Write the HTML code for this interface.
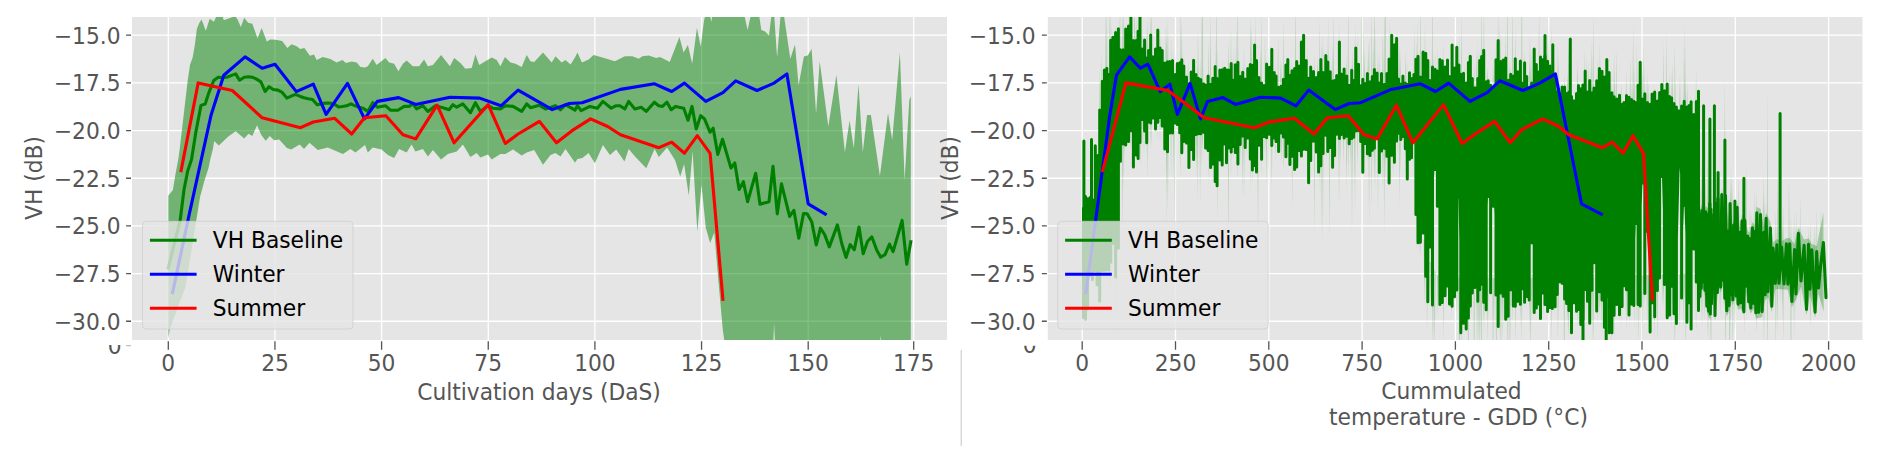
<!DOCTYPE html>
<html><head><meta charset="utf-8"><title>VH backscatter</title>
<style>html,body{margin:0;padding:0;background:#fff}body{width:1880px;height:463px;overflow:hidden}</style></head>
<body>
<svg width="1880" height="463" viewBox="0 0 1880 463" style="display:block;font-family:'DejaVu Sans','Liberation Sans',sans-serif">
<defs><clipPath id="cl"><rect x="132.0" y="17.0" width="815.0" height="323.0"/></clipPath>
<clipPath id="cr"><rect x="1047.8" y="17.0" width="814.7" height="323.0"/></clipPath>
<clipPath id="cz"><rect x="0" y="345.0" width="1000" height="30"/><rect x="1000" y="345.7" width="880" height="30"/></clipPath></defs>
<rect width="1880" height="463" fill="#ffffff"/>
<rect x="132.0" y="17.0" width="815.0" height="323.0" fill="#e5e5e5"/>
<path d="M132.0 35.20H947.0M132.0 82.88H947.0M132.0 130.55H947.0M132.0 178.23H947.0M132.0 225.90H947.0M132.0 273.57H947.0M132.0 321.25H947.0M168.30 17.0V340.0M274.95 17.0V340.0M381.60 17.0V340.0M488.25 17.0V340.0M594.90 17.0V340.0M701.55 17.0V340.0M808.20 17.0V340.0M913.70 17.0V340.0" stroke="#ffffff" stroke-width="1.3" fill="none"/>
<rect x="1047.8" y="17.0" width="814.7" height="323.0" fill="#e5e5e5"/>
<path d="M1047.8 35.20H1862.5M1047.8 82.88H1862.5M1047.8 130.55H1862.5M1047.8 178.23H1862.5M1047.8 225.90H1862.5M1047.8 273.57H1862.5M1047.8 321.25H1862.5M1082.20 17.0V340.0M1175.50 17.0V340.0M1268.80 17.0V340.0M1362.10 17.0V340.0M1455.40 17.0V340.0M1548.70 17.0V340.0M1642.00 17.0V340.0M1735.30 17.0V340.0M1828.60 17.0V340.0" stroke="#ffffff" stroke-width="1.3" fill="none"/>
<g clip-path="url(#cl)">
<path d="M168.3 195.8L172.9 189.9L175.4 174.4L178.3 159.2L179.7 148.9L187.7 80.6L190.1 64.6L192.6 57.7L194.7 45.9L196.9 28.7L199.4 22.8L201.6 19.4L205.8 30.8L209.7 18.8L213.9 21.7L216.5 16.1L222.5 16.1L223.8 20.3L228.5 18.6L235.3 16.1L237.8 19.9L240.8 27.0L244.2 17.7L248.1 22.8L252.3 23.8L257.5 38.3L261.7 28.0L266.8 41.5L270.3 39.4L275.4 39.8L282.2 41.1L287.3 48.0L291.6 44.2L296.7 46.3L300.1 48.9L304.4 48.0L309.9 55.8L314.0 54.6L316.6 60.1L322.8 57.1L330.4 58.9L336.6 62.6L342.4 60.1L345.9 63.1L351.7 61.4L356.7 62.6L360.5 67.1L365.0 67.6L367.8 66.3L372.8 58.8L376.6 65.1L385.4 58.0L389.1 62.6L394.1 63.8L398.4 71.3L402.9 63.8L406.6 60.6L412.9 66.3L419.1 66.3L424.1 59.5L427.9 66.3L432.9 65.1L441.1 55.0L449.9 66.3L454.2 58.0L460.4 63.1L465.4 68.8L471.7 68.1L475.4 54.5L479.2 65.1L491.7 57.5L496.7 60.1L500.4 66.3L505.0 57.0L510.5 62.6L515.5 63.8L521.7 67.1L526.7 55.0L530.5 61.3L534.2 62.1L543.0 52.5L551.7 62.6L555.5 56.3L561.7 62.6L565.5 60.1L570.5 64.6L575.0 57.5L577.4 52.5L581.9 62.6L588.6 59.5L593.6 55.0L602.4 57.5L614.9 61.3L624.9 56.3L632.4 56.3L638.7 58.8L642.4 56.3L648.7 55.5L656.2 58.0L660.0 57.0L670.0 62.1L670.0 61.3L679.4 37.1L683.6 52.6L687.9 45.1L692.2 63.8L696.9 28.1L700.7 46.5L704.1 19.9L707.9 6.6L711.4 21.9L714.3 -2.9L737.8 -2.9L739.9 16.1L742.5 6.6L747.6 30.1L752.7 6.6L757.0 0.9L761.3 30.1L765.1 31.4L769.0 35.6L773.2 0.9L777.1 57.5L781.8 0.9L790.3 58.8L795.0 44.5L798.6 85.2L803.9 56.4L807.8 55.6L811.6 48.9L816.1 113.4L819.7 61.3L828.3 126.4L836.4 75.1L844.9 152.3L849.6 120.6L853.8 148.3L858.5 84.6L862.8 152.3L867.1 115.1L870.9 115.1L879.9 175.9L888.0 113.2L892.2 140.1L899.9 52.4L904.6 180.1L909.3 100.0L910.8 96.2L910.8 397.5L882.4 359.4L880.3 335.6L878.2 359.4L776.2 368.9L774.1 323.2L772.2 368.9L727.1 359.4L722.9 330.8L718.6 283.1L714.3 232.6L710.1 243.1L705.8 227.8L701.5 184.9L697.3 231.6L692.6 151.3L688.8 195.4L684.1 163.9L680.2 176.5L675.1 160.2L667.1 147.6L658.8 157.1L654.6 148.9L646.3 168.2L635.0 156.4L628.7 148.9L624.5 161.4L616.2 149.6L609.9 155.1L602.9 145.1L594.9 163.2L588.6 153.1L582.4 158.1L577.4 158.9L575.0 162.7L565.5 148.9L560.5 156.4L555.5 153.1L550.5 155.1L543.0 164.7L534.2 150.1L526.7 152.6L521.7 155.6L513.0 149.6L505.5 153.9L500.4 153.9L491.7 159.6L487.9 154.6L480.4 157.6L476.7 153.1L470.4 157.1L462.9 144.6L456.7 151.4L447.9 153.9L441.1 159.6L432.9 150.1L427.9 156.4L422.9 148.9L415.4 151.4L411.6 144.6L406.6 152.6L399.1 148.9L394.1 158.1L387.9 155.1L381.6 149.6L372.8 147.6L367.8 152.6L365.0 145.1L355.4 152.6L350.4 148.9L342.9 153.9L327.8 147.6L317.8 150.1L309.5 142.8L304.0 148.9L299.7 144.5L291.2 149.6L286.9 147.9L279.2 139.5L274.1 140.3L269.8 136.1L265.6 140.7L261.3 135.1L257.0 125.2L252.3 136.1L248.5 133.8L244.2 138.6L235.7 131.3L228.0 136.8L218.8 145.4L214.2 141.0L212.9 148.9L210.3 159.2L208.6 167.7L204.3 181.3L200.1 196.7L196.0 222.1L185.4 286.9L169.8 328.9L168.3 338.4Z" fill="#008000" fill-opacity="0.5"/>
<path d="M168.3 267.9L180.2 220.2L184.0 189.7L187.7 171.0L191.6 159.2L195.9 131.7L201.0 105.4L205.2 104.0L208.6 93.4L213.7 80.6L218.2 77.2L222.5 77.5L226.7 77.2L231.0 75.6L235.7 73.9L239.5 80.2L244.2 77.2L248.5 76.8L252.3 77.2L256.6 79.1L260.9 81.9L265.1 91.5L269.0 86.7L273.2 89.5L277.9 90.1L282.2 92.4L286.9 98.1L291.2 96.2L295.4 94.3L299.7 96.2L304.0 97.7L308.2 98.7L312.5 99.5L317.2 104.8L321.0 103.9L325.3 103.1L329.6 103.1L333.8 103.9L338.5 106.9L342.4 106.5L346.6 105.8L350.9 103.9L355.2 105.8L359.4 107.3L363.7 108.6L367.8 111.4L372.8 102.7L377.3 107.2L385.4 105.7L390.4 110.2L397.9 110.2L404.1 106.4L409.1 106.4L412.9 103.9L416.6 108.9L422.9 105.7L427.9 111.4L435.4 105.7L442.9 107.7L449.2 109.7L452.9 104.7L456.7 107.2L462.9 103.9L470.4 112.7L475.4 102.7L480.4 111.4L487.9 105.7L492.9 108.2L500.4 108.9L505.5 105.7L513.0 106.4L521.7 111.4L526.7 103.9L530.5 107.7L539.2 105.2L545.5 108.9L555.5 105.7L560.5 109.7L565.5 104.7L575.0 110.2L577.4 105.7L581.1 110.7L589.9 106.4L597.4 108.2L602.9 101.4L611.2 108.2L616.2 105.7L619.9 105.7L624.9 108.9L628.7 101.4L634.9 108.9L641.2 107.2L646.2 111.4L654.4 102.2L658.7 105.7L662.5 106.4L667.0 102.2L671.2 109.7L675.5 106.4L683.7 108.2L688.0 120.2L692.0 106.4L696.2 129.0L700.7 115.7L704.5 118.9L710.0 132.2L713.2 128.2L717.8 154.4L722.5 139.3L731.0 168.1L734.8 163.0L739.1 189.5L743.4 181.7L747.6 201.7L755.7 173.3L760.0 204.2L769.0 201.7L773.0 166.2L777.3 213.9L781.5 183.9L789.6 216.4L793.9 210.3L798.8 238.3L803.5 213.5L807.3 213.9L811.8 222.1L816.3 245.0L820.4 228.2L824.6 234.5L829.3 246.9L837.4 224.9L841.9 244.0L846.0 257.4L850.2 244.6L854.3 249.7L859.0 227.0L863.2 253.7L867.5 241.5L871.8 236.8L876.9 250.5L880.7 257.2L885.0 254.7L889.5 244.2L893.1 251.6L902.1 220.4L906.7 264.2L910.8 241.7" stroke="#008000" stroke-width="3.1" fill="none" stroke-linejoin="round" stroke-linecap="square"/>
<path d="M172.6 292.6L189.6 212.6L211.0 115.3L223.8 75.2L245.1 56.9L262.2 68.2L275.0 64.2L296.3 91.6L313.3 84.2L326.1 114.3L347.5 83.4L364.5 118.9L377.3 101.4L398.7 97.6L415.7 104.4L449.9 97.2L479.7 98.1L501.0 105.8L518.1 90.1L552.2 109.6L569.3 103.5L582.1 102.7L620.5 89.4L654.6 83.8L671.7 91.5L684.5 83.1L705.8 101.4L722.9 92.6L735.7 80.8L757.0 90.5L774.1 83.1L786.9 73.9L808.2 203.8L825.3 214.1" stroke="#0000ff" stroke-width="3.1" fill="none" stroke-linejoin="round" stroke-linecap="square"/>
<path d="M181.1 170.6L198.2 82.9L232.3 90.5L262.2 117.8L300.5 127.7L313.3 122.0L334.7 118.3L351.7 134.0L364.5 117.8L385.9 115.7L402.9 134.7L415.7 138.9L437.1 105.2L454.1 142.8L488.2 104.6L505.3 143.5L518.1 134.0L539.4 121.4L556.5 142.8L573.6 129.6L590.6 118.9L607.7 126.5L620.5 134.7L658.9 147.7L671.7 142.2L684.5 153.2L697.3 135.7L710.1 153.4L722.9 299.3" stroke="#ff0000" stroke-width="3.1" fill="none" stroke-linejoin="round" stroke-linecap="square"/>
</g>
<g clip-path="url(#cr)">
<path d="M1707.0 228.8L1707.8 152.3L1708.5 228.8ZM1707.0 273.6L1707.8 340.5L1708.5 273.6ZM1406.3 96.2L1407.0 59.4L1407.8 96.2ZM1406.3 124.6L1407.0 180.1L1407.8 124.6ZM1470.8 97.6L1471.6 55.4L1472.3 97.6ZM1470.8 278.3L1471.6 317.2L1472.3 278.3ZM1415.9 96.2L1416.6 40.4L1417.4 96.2ZM1415.9 180.9L1416.6 252.8L1417.4 180.9ZM1752.7 245.6L1753.5 212.5L1754.2 245.6ZM1752.7 273.6L1753.5 310.9L1754.2 273.6ZM1419.1 96.3L1419.8 47.1L1420.6 96.3ZM1419.1 215.3L1419.8 254.5L1420.6 215.3ZM1239.7 96.2L1240.5 65.4L1241.2 96.2ZM1239.7 122.9L1240.5 161.2L1241.2 122.9ZM1431.6 96.6L1432.4 -20.0L1433.1 96.6ZM1431.6 266.6L1432.4 354.5L1433.1 266.6ZM1724.8 235.3L1725.6 115.9L1726.3 235.3ZM1724.8 273.6L1725.6 383.1L1726.3 273.6ZM1547.0 98.1L1547.8 28.2L1548.5 98.1ZM1547.0 278.3L1547.8 308.5L1548.5 278.3ZM1588.0 110.7L1588.7 58.8L1589.5 110.7ZM1588.0 277.8L1588.7 315.1L1589.5 277.8ZM1511.7 98.1L1512.5 -6.2L1513.2 98.1ZM1511.7 278.3L1512.5 323.2L1513.2 278.3ZM1566.9 109.8L1567.7 72.3L1568.4 109.8ZM1566.9 278.3L1567.7 317.4L1568.4 278.3ZM1739.1 240.6L1739.8 211.3L1740.6 240.6ZM1739.1 273.6L1739.8 307.4L1740.6 273.6ZM1589.6 110.8L1590.4 67.5L1591.1 110.8ZM1589.6 277.8L1590.4 308.6L1591.1 277.8ZM1576.4 110.2L1577.2 70.1L1577.9 110.2ZM1576.4 278.1L1577.2 328.2L1577.9 278.1ZM1399.7 96.2L1400.5 48.9L1401.2 96.2ZM1399.7 124.5L1400.5 173.7L1401.2 124.5ZM1385.2 96.2L1385.9 64.6L1386.7 96.2ZM1385.2 124.1L1385.9 157.6L1386.7 124.1ZM1742.6 241.9L1743.4 193.6L1744.1 241.9ZM1742.6 273.6L1743.4 305.1L1744.1 273.6ZM1722.5 234.5L1723.2 198.6L1724.0 234.5ZM1722.5 273.6L1723.2 304.7L1724.0 273.6ZM1482.5 97.9L1483.3 62.1L1484.0 97.9ZM1482.5 278.3L1483.3 323.6L1484.0 278.3ZM1499.4 98.1L1500.1 63.2L1500.9 98.1ZM1499.4 278.3L1500.1 328.0L1500.9 278.3ZM1180.1 89.8L1180.8 43.3L1181.6 89.8ZM1180.1 121.1L1180.8 171.7L1181.6 121.1ZM1156.3 75.4L1157.1 33.8L1157.8 75.4ZM1156.3 108.9L1157.1 139.4L1157.8 108.9ZM1416.5 96.2L1417.2 18.3L1418.0 96.2ZM1416.5 187.3L1417.2 235.7L1418.0 187.3ZM1615.6 112.1L1616.4 48.4L1617.1 112.1ZM1615.6 276.8L1616.4 308.4L1617.1 276.8ZM1815.5 268.6L1816.2 208.3L1817.0 268.6ZM1815.5 273.6L1816.2 304.8L1817.0 273.6ZM1699.3 226.0L1700.1 185.0L1700.8 226.0ZM1699.3 273.6L1700.1 306.8L1700.8 273.6ZM1793.3 260.5L1794.1 211.4L1794.8 260.5ZM1793.3 273.6L1794.1 339.2L1794.8 273.6ZM1197.3 94.5L1198.0 28.8L1198.8 94.5ZM1197.3 121.7L1198.0 151.8L1198.8 121.7ZM1269.8 96.2L1270.5 56.1L1271.3 96.2ZM1269.8 122.9L1270.5 151.9L1271.3 122.9ZM1528.5 98.1L1529.3 63.6L1530.0 98.1ZM1528.5 278.3L1529.3 315.8L1530.0 278.3ZM1610.4 111.8L1611.2 69.4L1611.9 111.8ZM1610.4 277.1L1611.2 360.1L1611.9 277.1ZM1548.0 98.1L1548.7 18.5L1549.5 98.1ZM1548.0 278.3L1548.7 327.5L1549.5 278.3ZM1762.5 249.2L1763.3 169.9L1764.0 249.2ZM1762.5 273.6L1763.3 306.7L1764.0 273.6ZM1637.9 113.2L1638.7 74.3L1639.4 113.2ZM1637.9 275.7L1638.7 340.0L1639.4 275.7ZM1590.9 110.9L1591.7 39.0L1592.4 110.9ZM1590.9 277.7L1591.7 309.6L1592.4 277.7ZM1368.3 96.2L1369.1 34.5L1369.8 96.2ZM1368.3 123.6L1369.1 225.5L1369.8 123.6ZM1620.8 112.3L1621.6 82.6L1622.3 112.3ZM1620.8 276.5L1621.6 328.1L1622.3 276.5ZM1170.4 86.2L1171.1 37.9L1171.9 86.2ZM1170.4 109.5L1171.1 178.4L1171.9 109.5ZM1180.0 89.8L1180.8 -3.2L1181.5 89.8ZM1180.0 121.1L1180.8 177.6L1181.5 121.1ZM1282.6 96.2L1283.3 62.3L1284.1 96.2ZM1282.6 122.9L1283.3 166.2L1284.1 122.9ZM1705.1 228.1L1705.8 177.9L1706.6 228.1ZM1705.1 273.6L1705.8 305.2L1706.6 273.6ZM1113.4 58.5L1114.2 27.0L1114.9 58.5ZM1113.4 220.5L1114.2 289.1L1114.9 220.5ZM1232.4 96.2L1233.1 47.6L1233.9 96.2ZM1232.4 122.9L1233.1 160.0L1233.9 122.9ZM1595.8 111.1L1596.5 70.6L1597.3 111.1ZM1595.8 277.6L1596.5 310.1L1597.3 277.6ZM1732.0 238.0L1732.8 190.2L1733.5 238.0ZM1732.0 273.6L1732.8 331.2L1733.5 273.6ZM1683.4 122.5L1684.1 20.2L1684.9 122.5ZM1683.4 273.1L1684.1 302.0L1684.9 273.1ZM1346.1 96.2L1346.9 63.6L1347.6 96.2ZM1346.1 123.0L1346.9 168.9L1347.6 123.0ZM1730.3 237.4L1731.1 168.8L1731.8 237.4ZM1730.3 273.6L1731.1 303.1L1731.8 273.6ZM1230.2 96.2L1231.0 25.3L1231.7 96.2ZM1230.2 122.9L1231.0 179.7L1231.7 122.9ZM1382.5 96.2L1383.2 51.6L1384.0 96.2ZM1382.5 124.0L1383.2 156.9L1384.0 124.0ZM1710.1 229.9L1710.9 188.9L1711.6 229.9ZM1710.1 273.6L1710.9 353.3L1711.6 273.6ZM1540.5 98.1L1541.3 67.6L1542.0 98.1ZM1540.5 278.3L1541.3 316.8L1542.0 278.3ZM1254.9 96.2L1255.6 12.0L1256.4 96.2ZM1254.9 122.9L1255.6 173.6L1256.4 122.9ZM1129.9 61.5L1130.6 28.3L1131.4 61.5ZM1129.9 107.7L1130.6 147.4L1131.4 107.7ZM1436.9 96.7L1437.7 46.8L1438.4 96.7ZM1436.9 275.6L1437.7 316.4L1438.4 275.6ZM1354.3 96.2L1355.1 67.5L1355.8 96.2ZM1354.3 123.2L1355.1 173.3L1355.8 123.2ZM1339.9 96.2L1340.7 67.1L1341.4 96.2ZM1339.9 122.9L1340.7 166.8L1341.4 122.9ZM1812.4 267.5L1813.2 237.8L1813.9 267.5ZM1812.4 273.6L1813.2 306.1L1813.9 273.6ZM1584.0 110.6L1584.8 74.1L1585.5 110.6ZM1584.0 277.9L1584.8 314.4L1585.5 277.9ZM1460.2 97.3L1461.0 61.2L1461.7 97.3ZM1460.2 278.3L1461.0 327.8L1461.7 278.3ZM1480.6 97.8L1481.4 -8.7L1482.1 97.8ZM1480.6 278.3L1481.4 427.2L1482.1 278.3ZM1122.9 60.2L1123.7 11.3L1124.4 60.2ZM1122.9 124.8L1123.7 190.0L1124.4 124.8ZM1729.9 237.2L1730.6 171.7L1731.4 237.2ZM1729.9 273.6L1730.6 327.0L1731.4 273.6ZM1557.7 101.7L1558.5 61.9L1559.2 101.7ZM1557.7 278.3L1558.5 315.1L1559.2 278.3ZM1674.1 120.1L1674.8 40.4L1675.6 120.1ZM1674.1 273.8L1674.8 371.6L1675.6 273.8ZM1591.5 110.9L1592.3 73.3L1593.0 110.9ZM1591.5 277.7L1592.3 342.0L1593.0 277.7ZM1633.7 113.0L1634.4 66.8L1635.2 113.0ZM1633.7 275.9L1634.4 329.5L1635.2 275.9ZM1352.0 96.2L1352.7 47.8L1353.5 96.2ZM1352.0 123.2L1352.7 164.7L1353.5 123.2ZM1142.0 66.5L1142.8 27.7L1143.5 66.5ZM1142.0 108.3L1142.8 146.6L1143.5 108.3ZM1813.9 268.1L1814.6 223.2L1815.4 268.1ZM1813.9 273.6L1814.6 313.5L1815.4 273.6ZM1274.5 96.2L1275.2 61.0L1276.0 96.2ZM1274.5 122.9L1275.2 162.2L1276.0 122.9ZM1196.4 94.5L1197.2 65.7L1197.9 94.5ZM1196.4 121.7L1197.2 201.0L1197.9 121.7ZM1426.3 96.5L1427.1 53.2L1427.8 96.5ZM1426.3 254.5L1427.1 304.0L1427.8 254.5ZM1317.2 96.2L1317.9 63.0L1318.7 96.2ZM1317.2 122.9L1317.9 153.2L1318.7 122.9ZM1316.5 96.2L1317.3 58.5L1318.0 96.2ZM1316.5 122.9L1317.3 183.7L1318.0 122.9ZM1497.4 98.1L1498.1 0.8L1498.9 98.1ZM1497.4 278.3L1498.1 317.3L1498.9 278.3ZM1765.2 250.2L1766.0 199.9L1766.7 250.2ZM1765.2 273.6L1766.0 304.2L1766.7 273.6ZM1227.7 96.1L1228.4 45.9L1229.2 96.1ZM1227.7 122.8L1228.4 260.0L1229.2 122.8ZM1356.7 96.2L1357.4 30.7L1358.2 96.2ZM1356.7 123.3L1357.4 165.8L1358.2 123.3ZM1726.9 236.1L1727.7 205.8L1728.4 236.1ZM1726.9 273.6L1727.7 318.6L1728.4 273.6ZM1749.2 244.3L1750.0 207.7L1750.7 244.3ZM1749.2 273.6L1750.0 309.6L1750.7 273.6ZM1114.9 58.8L1115.7 25.7L1116.4 58.8ZM1114.9 218.7L1115.7 255.0L1116.4 218.7ZM1608.2 111.7L1609.0 77.0L1609.7 111.7ZM1608.2 277.2L1609.0 318.4L1609.7 277.2ZM1243.3 96.2L1244.0 44.7L1244.8 96.2ZM1243.3 122.9L1244.0 201.0L1244.8 122.9ZM1567.5 109.8L1568.2 75.8L1569.0 109.8ZM1567.5 278.3L1568.2 339.7L1569.0 278.3ZM1795.6 261.3L1796.3 209.9L1797.1 261.3ZM1795.6 273.6L1796.3 304.2L1797.1 273.6ZM1684.3 122.8L1685.1 42.5L1685.8 122.8ZM1684.3 273.0L1685.1 311.9L1685.8 273.0ZM1197.2 94.5L1197.9 60.7L1198.7 94.5ZM1197.2 121.7L1197.9 169.4L1198.7 121.7ZM1732.1 238.0L1732.8 184.1L1733.6 238.0ZM1732.1 273.6L1732.8 365.7L1733.6 273.6ZM1251.9 96.2L1252.6 57.8L1253.4 96.2ZM1251.9 122.9L1252.6 185.8L1253.4 122.9ZM1568.1 109.8L1568.8 68.3L1569.6 109.8ZM1568.1 278.3L1568.8 335.1L1569.6 278.3ZM1342.8 96.2L1343.5 66.2L1344.3 96.2ZM1342.8 122.9L1343.5 164.8L1344.3 122.9ZM1131.2 61.8L1131.9 8.8L1132.7 61.8ZM1131.2 107.8L1131.9 146.5L1132.7 107.8ZM1456.2 97.2L1456.9 46.0L1457.7 97.2ZM1456.2 278.3L1456.9 314.3L1457.7 278.3ZM1433.7 96.6L1434.5 67.7L1435.2 96.6ZM1433.7 270.9L1434.5 363.8L1435.2 270.9ZM1506.7 98.1L1507.4 -39.2L1508.2 98.1ZM1506.7 278.3L1507.4 308.4L1508.2 278.3ZM1542.8 98.1L1543.5 37.6L1544.3 98.1ZM1542.8 278.3L1543.5 316.8L1544.3 278.3ZM1165.9 82.8L1166.7 50.0L1167.4 82.8ZM1165.9 109.3L1166.7 141.8L1167.4 109.3ZM1653.7 115.9L1654.4 85.0L1655.2 115.9ZM1653.7 274.8L1654.4 345.2L1655.2 274.8ZM1404.7 96.2L1405.4 48.4L1406.2 96.2ZM1404.7 124.6L1405.4 175.2L1406.2 124.6ZM1500.1 98.1L1500.8 43.0L1501.6 98.1ZM1500.1 278.3L1500.8 329.8L1501.6 278.3ZM1337.8 96.2L1338.5 34.1L1339.3 96.2ZM1337.8 122.9L1338.5 158.9L1339.3 122.9ZM1613.3 112.0L1614.1 47.6L1614.8 112.0ZM1613.3 276.9L1614.1 342.6L1614.8 276.9ZM1322.1 96.2L1322.9 30.9L1323.6 96.2ZM1322.1 122.9L1322.9 245.5L1323.6 122.9ZM1426.3 96.5L1427.1 59.8L1427.8 96.5ZM1426.3 254.7L1427.1 301.6L1427.8 254.7ZM1779.5 255.4L1780.2 223.3L1781.0 255.4ZM1779.5 273.6L1780.2 302.4L1781.0 273.6ZM1442.7 96.9L1443.5 41.9L1444.2 96.9ZM1442.7 276.5L1443.5 342.0L1444.2 276.5ZM1360.7 96.2L1361.4 -45.4L1362.2 96.2ZM1360.7 123.4L1361.4 158.4L1362.2 123.4ZM1646.0 114.4L1646.8 83.4L1647.5 114.4ZM1646.0 275.2L1646.8 304.5L1647.5 275.2ZM1195.4 94.4L1196.1 64.3L1196.9 94.4ZM1195.4 121.6L1196.1 167.5L1196.9 121.6ZM1500.2 98.1L1501.0 64.6L1501.7 98.1ZM1500.2 278.3L1501.0 376.6L1501.7 278.3ZM1362.9 96.2L1363.7 63.6L1364.4 96.2ZM1362.9 123.5L1363.7 156.9L1364.4 123.5ZM1632.4 112.9L1633.1 21.3L1633.9 112.9ZM1632.4 275.9L1633.1 308.9L1633.9 275.9ZM1119.3 59.6L1120.0 -6.4L1120.8 59.6ZM1119.3 124.8L1120.0 160.3L1120.8 124.8ZM1809.5 266.4L1810.2 220.7L1811.0 266.4ZM1809.5 273.6L1810.2 327.2L1811.0 273.6ZM1347.5 96.2L1348.2 27.7L1349.0 96.2ZM1347.5 123.1L1348.2 166.9L1349.0 123.1ZM1332.7 96.2L1333.5 9.7L1334.2 96.2ZM1332.7 122.9L1333.5 154.4L1334.2 122.9ZM1629.2 112.8L1630.0 82.5L1630.7 112.8ZM1629.2 276.1L1630.0 330.4L1630.7 276.1ZM1389.2 96.2L1389.9 18.1L1390.7 96.2ZM1389.2 124.2L1389.9 154.3L1390.7 124.2ZM1506.7 98.1L1507.5 56.4L1508.2 98.1ZM1506.7 278.3L1507.5 369.3L1508.2 278.3ZM1782.4 256.5L1783.1 203.4L1783.9 256.5ZM1782.4 273.6L1783.1 308.5L1783.9 273.6ZM1280.6 96.2L1281.4 60.1L1282.1 96.2ZM1280.6 122.9L1281.4 165.6L1282.1 122.9ZM1265.8 96.2L1266.5 62.0L1267.3 96.2ZM1265.8 122.9L1266.5 186.8L1267.3 122.9ZM1563.6 109.6L1564.3 72.2L1565.1 109.6ZM1563.6 278.3L1564.3 435.1L1565.1 278.3ZM1255.1 96.2L1255.8 46.7L1256.6 96.2ZM1255.1 122.9L1255.8 155.8L1256.6 122.9ZM1723.1 234.7L1723.9 155.7L1724.6 234.7ZM1723.1 273.6L1723.9 309.9L1724.6 273.6ZM1642.4 113.6L1643.1 42.1L1643.9 113.6ZM1642.4 275.4L1643.1 312.3L1643.9 275.4ZM1338.3 96.2L1339.0 51.1L1339.8 96.2ZM1338.3 122.9L1339.0 206.5L1339.8 122.9ZM1215.2 95.4L1216.0 38.4L1216.7 95.4ZM1215.2 122.4L1216.0 173.5L1216.7 122.4ZM1426.3 96.5L1427.0 46.4L1427.8 96.5ZM1426.3 254.2L1427.0 336.0L1427.8 254.2ZM1250.2 96.2L1250.9 14.3L1251.7 96.2ZM1250.2 122.9L1250.9 162.6L1251.7 122.9ZM1662.8 117.8L1663.6 39.9L1664.3 117.8ZM1662.8 274.4L1663.6 308.0L1664.3 274.4ZM1723.8 235.0L1724.5 75.9L1725.3 235.0ZM1723.8 273.6L1724.5 310.9L1725.3 273.6ZM1115.9 58.9L1116.7 27.4L1117.4 58.9ZM1115.9 217.5L1116.7 336.9L1117.4 217.5ZM1105.1 91.5L1105.8 2.7L1106.6 91.5ZM1105.1 247.7L1105.8 280.4L1106.6 247.7ZM1631.1 112.9L1631.9 81.7L1632.6 112.9ZM1631.1 276.0L1631.9 309.2L1632.6 276.0ZM1592.6 111.0L1593.3 80.0L1594.1 111.0ZM1592.6 277.7L1593.3 316.6L1594.1 277.7ZM1763.2 249.5L1764.0 189.6L1764.7 249.5ZM1763.2 273.6L1764.0 355.1L1764.7 273.6ZM1807.5 265.7L1808.3 236.3L1809.0 265.7ZM1807.5 273.6L1808.3 308.8L1809.0 273.6ZM1671.7 119.6L1672.5 62.0L1673.2 119.6ZM1671.7 273.9L1672.5 303.5L1673.2 273.9ZM1463.7 97.4L1464.5 62.3L1465.2 97.4ZM1463.7 278.3L1464.5 320.9L1465.2 278.3ZM1174.2 87.8L1174.9 58.7L1175.7 87.8ZM1174.2 114.4L1174.9 259.2L1175.7 114.4ZM1327.4 96.2L1328.1 15.3L1328.9 96.2ZM1327.4 122.9L1328.1 154.7L1328.9 122.9ZM1451.1 97.1L1451.8 64.9L1452.6 97.1ZM1451.1 277.8L1451.8 320.3L1452.6 277.8ZM1227.8 96.1L1228.6 38.8L1229.3 96.1ZM1227.8 122.8L1228.6 155.4L1229.3 122.8ZM1632.7 113.0L1633.5 67.1L1634.2 113.0ZM1632.7 275.9L1633.5 307.5L1634.2 275.9ZM1354.2 96.2L1355.0 50.6L1355.7 96.2ZM1354.2 123.2L1355.0 214.1L1355.7 123.2ZM1351.2 96.2L1352.0 61.6L1352.7 96.2ZM1351.2 123.2L1352.0 236.7L1352.7 123.2ZM1737.7 240.1L1738.4 178.9L1739.2 240.1ZM1737.7 273.6L1738.4 310.1L1739.2 273.6ZM1226.6 96.0L1227.3 59.8L1228.1 96.0ZM1226.6 122.8L1227.3 153.1L1228.1 122.8ZM1129.5 61.5L1130.3 15.2L1131.0 61.5ZM1129.5 107.7L1130.3 149.3L1131.0 107.7ZM1501.2 98.1L1502.0 58.4L1502.7 98.1ZM1501.2 278.3L1502.0 307.2L1502.7 278.3ZM1596.5 111.1L1597.2 56.3L1598.0 111.1ZM1596.5 277.6L1597.2 325.7L1598.0 277.6ZM1495.6 98.1L1496.3 40.5L1497.1 98.1ZM1495.6 278.3L1496.3 407.0L1497.1 278.3ZM1731.1 237.6L1731.8 177.7L1732.6 237.6ZM1731.1 273.6L1731.8 314.8L1732.6 273.6ZM1328.7 96.2L1329.4 54.2L1330.2 96.2ZM1328.7 122.9L1329.4 241.0L1330.2 122.9ZM1378.5 96.2L1379.2 55.6L1380.0 96.2ZM1378.5 123.9L1379.2 165.6L1380.0 123.9ZM1201.8 94.7L1202.6 -67.3L1203.3 94.7ZM1201.8 121.9L1202.6 150.6L1203.3 121.9ZM1538.3 98.1L1539.1 4.9L1539.8 98.1ZM1538.3 278.3L1539.1 314.2L1539.8 278.3ZM1540.5 98.1L1541.3 57.8L1542.0 98.1ZM1540.5 278.3L1541.3 313.8L1542.0 278.3ZM1241.9 96.2L1242.7 64.6L1243.4 96.2ZM1241.9 122.9L1242.7 197.4L1243.4 122.9ZM1665.8 118.4L1666.6 30.5L1667.3 118.4ZM1665.8 274.2L1666.6 304.1L1667.3 274.2ZM1600.8 111.3L1601.6 73.0L1602.3 111.3ZM1600.8 277.5L1601.6 331.8L1602.3 277.5ZM1495.7 98.1L1496.4 60.1L1497.2 98.1ZM1495.7 278.3L1496.4 395.2L1497.2 278.3ZM1098.9 129.7L1099.7 67.1L1100.4 129.7ZM1098.9 250.4L1099.7 326.6L1100.4 250.4ZM1467.6 97.5L1468.3 46.7L1469.1 97.5ZM1467.6 278.3L1468.3 437.1L1469.1 278.3ZM1268.0 96.2L1268.7 43.0L1269.5 96.2ZM1268.0 122.9L1268.7 185.2L1269.5 122.9ZM1372.5 96.2L1373.3 36.7L1374.0 96.2ZM1372.5 123.7L1373.3 164.7L1374.0 123.7ZM1479.3 97.8L1480.0 45.7L1480.8 97.8ZM1479.3 278.3L1480.0 335.0L1480.8 278.3ZM1331.5 96.2L1332.2 43.0L1333.0 96.2ZM1331.5 122.9L1332.2 170.9L1333.0 122.9ZM1259.9 96.2L1260.6 44.1L1261.4 96.2ZM1259.9 122.9L1260.6 159.2L1261.4 122.9ZM1756.2 246.9L1756.9 202.4L1757.7 246.9ZM1756.2 273.6L1756.9 333.9L1757.7 273.6ZM1476.2 97.7L1477.0 53.1L1477.7 97.7ZM1476.2 278.3L1477.0 313.1L1477.7 278.3ZM1201.1 94.7L1201.9 1.1L1202.6 94.7ZM1201.1 121.8L1201.9 169.1L1202.6 121.8ZM1477.6 97.8L1478.3 50.6L1479.1 97.8ZM1477.6 278.3L1478.3 348.6L1479.1 278.3ZM1271.0 96.2L1271.8 62.9L1272.5 96.2ZM1271.0 122.9L1271.8 194.3L1272.5 122.9ZM1431.5 96.6L1432.3 42.6L1433.0 96.6ZM1431.5 266.3L1432.3 338.5L1433.0 266.3ZM1745.5 243.0L1746.3 164.2L1747.0 243.0ZM1745.5 273.6L1746.3 303.3L1747.0 273.6ZM1374.3 96.2L1375.0 23.4L1375.8 96.2ZM1374.3 123.8L1375.0 194.6L1375.8 123.8ZM1187.3 92.2L1188.1 59.5L1188.8 92.2ZM1187.3 121.3L1188.1 157.1L1188.8 121.3ZM1172.7 87.3L1173.4 47.7L1174.2 87.3ZM1172.7 112.1L1173.4 181.0L1174.2 112.1ZM1475.7 97.7L1476.5 54.2L1477.2 97.7ZM1475.7 278.3L1476.5 309.2L1477.2 278.3ZM1384.6 96.2L1385.4 -65.9L1386.1 96.2ZM1384.6 124.0L1385.4 182.1L1386.1 124.0ZM1423.6 96.4L1424.3 51.6L1425.1 96.4ZM1423.6 239.7L1424.3 308.0L1425.1 239.7ZM1647.6 114.7L1648.4 82.1L1649.1 114.7ZM1647.6 275.2L1648.4 332.0L1649.1 275.2ZM1363.9 96.2L1364.7 49.4L1365.4 96.2ZM1363.9 123.5L1364.7 158.8L1365.4 123.5ZM1366.7 96.2L1367.4 57.3L1368.2 96.2ZM1366.7 123.6L1367.4 164.1L1368.2 123.6ZM1111.1 58.3L1111.9 24.1L1112.6 58.3ZM1111.1 245.1L1111.9 294.6L1112.6 245.1ZM1140.0 65.6L1140.8 32.2L1141.5 65.6ZM1140.0 108.2L1140.8 168.2L1141.5 108.2ZM1297.1 96.2L1297.8 57.9L1298.6 96.2ZM1297.1 122.9L1297.8 158.4L1298.6 122.9ZM1702.2 227.0L1702.9 196.0L1703.7 227.0ZM1702.2 273.6L1702.9 327.2L1703.7 273.6ZM1720.1 233.6L1720.8 199.4L1721.6 233.6ZM1720.1 273.6L1720.8 315.8L1721.6 273.6ZM1671.9 119.6L1672.6 67.2L1673.4 119.6ZM1671.9 273.9L1672.6 314.0L1673.4 273.9ZM1130.0 61.6L1130.8 18.5L1131.5 61.6ZM1130.0 107.7L1130.8 147.7L1131.5 107.7ZM1614.1 112.0L1614.9 74.7L1615.6 112.0ZM1614.1 276.9L1614.9 318.5L1615.6 276.9ZM1567.5 109.8L1568.3 39.9L1569.0 109.8ZM1567.5 278.3L1568.3 317.7L1569.0 278.3ZM1377.2 96.2L1378.0 46.2L1378.7 96.2ZM1377.2 123.9L1378.0 216.6L1378.7 123.9ZM1237.0 96.2L1237.7 -20.5L1238.5 96.2ZM1237.0 122.9L1237.7 182.4L1238.5 122.9ZM1367.8 96.2L1368.6 40.5L1369.3 96.2ZM1367.8 123.6L1368.6 162.1L1369.3 123.6ZM1149.5 70.2L1150.2 6.6L1151.0 70.2ZM1149.5 108.6L1150.2 149.0L1151.0 108.6ZM1478.9 97.8L1479.7 52.2L1480.4 97.8ZM1478.9 278.3L1479.7 364.4L1480.4 278.3ZM1646.3 114.4L1647.1 85.2L1647.8 114.4ZM1646.3 275.2L1647.1 326.1L1647.8 275.2ZM1433.1 96.6L1433.9 52.6L1434.6 96.6ZM1433.1 269.6L1433.9 343.6L1434.6 269.6ZM1398.6 96.2L1399.4 51.7L1400.1 96.2ZM1398.6 124.4L1399.4 207.8L1400.1 124.4ZM1416.7 96.2L1417.4 50.9L1418.2 96.2ZM1416.7 189.7L1417.4 236.1L1418.2 189.7ZM1695.3 126.1L1696.1 70.0L1696.8 126.1ZM1695.3 271.9L1696.1 333.9L1696.8 271.9ZM1389.1 96.2L1389.8 66.6L1390.6 96.2ZM1389.1 124.2L1389.8 181.0L1390.6 124.2ZM1499.2 98.1L1500.0 33.2L1500.7 98.1ZM1499.2 278.3L1500.0 343.4L1500.7 278.3ZM1183.8 91.0L1184.5 56.2L1185.3 91.0ZM1183.8 121.2L1184.5 151.8L1185.3 121.2ZM1690.1 124.6L1690.9 93.3L1691.6 124.6ZM1690.1 272.4L1690.9 303.3L1691.6 272.4ZM1643.6 113.9L1644.4 64.7L1645.1 113.9ZM1643.6 275.4L1644.4 305.4L1645.1 275.4ZM1591.3 110.9L1592.0 51.5L1592.8 110.9ZM1591.3 277.7L1592.0 322.7L1592.8 277.7ZM1137.9 64.7L1138.7 6.9L1139.4 64.7ZM1137.9 108.1L1138.7 150.1L1139.4 108.1ZM1521.0 98.1L1521.8 -64.0L1522.5 98.1ZM1521.0 278.3L1521.8 349.0L1522.5 278.3ZM1729.5 237.1L1730.3 204.6L1731.0 237.1ZM1729.5 273.6L1730.3 312.3L1731.0 273.6ZM1473.4 97.7L1474.2 68.9L1474.9 97.7ZM1473.4 278.3L1474.2 418.0L1474.9 278.3ZM1297.1 96.2L1297.9 60.1L1298.6 96.2ZM1297.1 122.9L1297.9 160.8L1298.6 122.9ZM1282.9 96.2L1283.6 19.1L1284.4 96.2ZM1282.9 122.9L1283.6 171.6L1284.4 122.9ZM1468.2 97.5L1468.9 55.4L1469.7 97.5ZM1468.2 278.3L1468.9 308.2L1469.7 278.3ZM1318.7 96.2L1319.4 17.6L1320.2 96.2ZM1318.7 122.9L1319.4 191.7L1320.2 122.9ZM1718.5 233.0L1719.2 197.0L1720.0 233.0ZM1718.5 273.6L1719.2 307.8L1720.0 273.6ZM1136.0 63.8L1136.7 16.1L1137.5 63.8ZM1136.0 108.0L1136.7 148.2L1137.5 108.0ZM1434.3 96.7L1435.1 51.4L1435.8 96.7ZM1434.3 272.1L1435.1 322.5L1435.8 272.1ZM1363.0 96.2L1363.8 27.5L1364.5 96.2ZM1363.0 123.5L1363.8 157.6L1364.5 123.5ZM1763.9 249.7L1764.6 201.0L1765.4 249.7ZM1763.9 273.6L1764.6 303.5L1765.4 273.6ZM1325.8 96.2L1326.5 48.7L1327.3 96.2ZM1325.8 122.9L1326.5 164.6L1327.3 122.9ZM1507.3 98.1L1508.0 59.8L1508.8 98.1ZM1507.3 278.3L1508.0 314.9L1508.8 278.3ZM1674.6 120.2L1675.4 83.1L1676.1 120.2ZM1674.6 273.8L1675.4 333.1L1676.1 273.8ZM1679.2 121.2L1680.0 70.4L1680.7 121.2ZM1679.2 273.5L1680.0 317.1L1680.7 273.5ZM1775.1 253.8L1775.8 210.6L1776.6 253.8ZM1775.1 273.6L1775.8 354.3L1776.6 273.6ZM1140.0 65.6L1140.8 22.9L1141.5 65.6ZM1140.0 108.2L1140.8 162.1L1141.5 108.2ZM1133.7 62.7L1134.4 -15.1L1135.2 62.7ZM1133.7 107.9L1134.4 138.4L1135.2 107.9ZM1530.0 98.1L1530.7 64.6L1531.5 98.1ZM1530.0 278.3L1530.7 370.3L1531.5 278.3ZM1504.5 98.1L1505.2 29.5L1506.0 98.1ZM1504.5 278.3L1505.2 324.0L1506.0 278.3ZM1586.1 110.7L1586.9 54.2L1587.6 110.7ZM1586.1 277.8L1586.9 315.1L1587.6 277.8ZM1251.0 96.2L1251.8 22.4L1252.5 96.2ZM1251.0 122.9L1251.8 155.4L1252.5 122.9ZM1762.8 249.3L1763.5 214.9L1764.3 249.3ZM1762.8 273.6L1763.5 304.8L1764.3 273.6ZM1167.2 83.8L1167.9 17.1L1168.7 83.8ZM1167.2 109.4L1167.9 212.7L1168.7 109.4ZM1398.5 96.2L1399.2 41.0L1400.0 96.2ZM1398.5 124.4L1399.2 160.4L1400.0 124.4ZM1754.1 246.1L1754.9 188.8L1755.6 246.1ZM1754.1 273.6L1754.9 306.4L1755.6 273.6ZM1139.3 65.3L1140.0 7.2L1140.8 65.3ZM1139.3 108.1L1140.0 137.8L1140.8 108.1ZM1703.6 227.6L1704.4 190.3L1705.1 227.6ZM1703.6 273.6L1704.4 308.7L1705.1 273.6ZM1519.7 98.1L1520.4 60.0L1521.2 98.1ZM1519.7 278.3L1520.4 327.3L1521.2 278.3ZM1209.7 95.2L1210.5 6.3L1211.2 95.2ZM1209.7 122.2L1210.5 160.5L1211.2 122.2ZM1707.4 228.9L1708.1 196.2L1708.9 228.9ZM1707.4 273.6L1708.1 342.0L1708.9 273.6ZM1807.8 265.8L1808.6 224.9L1809.3 265.8ZM1807.8 273.6L1808.6 303.0L1809.3 273.6ZM1373.3 96.2L1374.1 42.2L1374.8 96.2ZM1373.3 123.7L1374.1 158.6L1374.8 123.7ZM1493.3 98.1L1494.1 67.1L1494.8 98.1ZM1493.3 278.3L1494.1 322.4L1494.8 278.3ZM1625.5 112.6L1626.2 70.0L1627.0 112.6ZM1625.5 276.3L1626.2 333.1L1627.0 276.3ZM1181.1 90.1L1181.8 17.8L1182.6 90.1ZM1181.1 121.1L1181.8 152.9L1182.6 121.1ZM1766.7 250.7L1767.5 88.6L1768.2 250.7ZM1766.7 273.6L1767.5 371.7L1768.2 273.6ZM1479.3 97.8L1480.1 60.7L1480.8 97.8ZM1479.3 278.3L1480.1 317.5L1480.8 278.3ZM1641.5 113.4L1642.3 67.8L1643.0 113.4ZM1641.5 275.5L1642.3 369.9L1643.0 275.5ZM1165.6 82.5L1166.3 37.5L1167.1 82.5ZM1165.6 109.3L1166.3 187.4L1167.1 109.3ZM1531.0 98.1L1531.8 50.2L1532.5 98.1ZM1531.0 278.3L1531.8 309.2L1532.5 278.3ZM1199.4 94.6L1200.1 58.2L1200.9 94.6ZM1199.4 121.8L1200.1 205.8L1200.9 121.8ZM1710.3 230.0L1711.1 195.0L1711.8 230.0ZM1710.3 273.6L1711.1 366.3L1711.8 273.6ZM1121.7 60.0L1122.5 8.8L1123.2 60.0ZM1121.7 124.8L1122.5 238.3L1123.2 124.8ZM1347.5 96.2L1348.3 -4.0L1349.0 96.2ZM1347.5 123.1L1348.3 178.2L1349.0 123.1ZM1134.5 63.1L1135.2 24.5L1136.0 63.1ZM1134.5 107.9L1135.2 151.3L1136.0 107.9ZM1277.4 96.2L1278.1 34.0L1278.9 96.2ZM1277.4 122.9L1278.1 156.4L1278.9 122.9ZM1668.6 119.0L1669.3 81.6L1670.1 119.0ZM1668.6 274.1L1669.3 304.5L1670.1 274.1ZM1503.1 98.1L1503.8 67.0L1504.6 98.1ZM1503.1 278.3L1503.8 326.8L1504.6 278.3ZM1668.8 119.0L1669.5 68.0L1670.3 119.0ZM1668.8 274.1L1669.5 318.0L1670.3 274.1ZM1122.7 60.2L1123.4 13.7L1124.2 60.2ZM1122.7 124.8L1123.4 156.0L1124.2 124.8ZM1566.5 109.7L1567.3 77.6L1568.0 109.7ZM1566.5 278.3L1567.3 328.3L1568.0 278.3ZM1353.7 96.2L1354.5 56.0L1355.2 96.2ZM1353.7 123.2L1354.5 178.8L1355.2 123.2ZM1216.9 95.5L1217.6 62.3L1218.4 95.5ZM1216.9 122.4L1217.6 221.4L1218.4 122.4ZM1338.3 96.2L1339.1 21.8L1339.8 96.2ZM1338.3 122.9L1339.1 202.8L1339.8 122.9ZM1445.9 97.0L1446.7 64.3L1447.4 97.0ZM1445.9 277.0L1446.7 308.1L1447.4 277.0ZM1734.7 239.0L1735.4 207.3L1736.2 239.0ZM1734.7 273.6L1735.4 319.2L1736.2 273.6ZM1486.3 98.0L1487.1 66.3L1487.8 98.0ZM1486.3 278.3L1487.1 322.6L1487.8 278.3ZM1217.0 95.5L1217.8 47.9L1218.5 95.5ZM1217.0 122.4L1217.8 168.5L1218.5 122.4ZM1363.9 96.2L1364.6 62.2L1365.4 96.2ZM1363.9 123.5L1364.6 164.9L1365.4 123.5ZM1245.5 96.2L1246.3 64.2L1247.0 96.2ZM1245.5 122.9L1246.3 158.3L1247.0 122.9ZM1729.2 237.0L1730.0 191.1L1730.7 237.0ZM1729.2 273.6L1730.0 357.0L1730.7 273.6ZM1109.2 66.9L1109.9 -32.8L1110.7 66.9ZM1109.2 245.9L1109.9 291.1L1110.7 245.9ZM1671.0 119.5L1671.7 69.9L1672.5 119.5ZM1671.0 274.0L1671.7 331.5L1672.5 274.0ZM1264.2 96.2L1265.0 33.2L1265.7 96.2ZM1264.2 122.9L1265.0 155.7L1265.7 122.9ZM1289.5 96.2L1290.3 66.8L1291.0 96.2ZM1289.5 122.9L1290.3 163.9L1291.0 122.9ZM1473.4 97.7L1474.1 60.5L1474.9 97.7ZM1473.4 278.3L1474.1 361.8L1474.9 278.3ZM1159.3 77.7L1160.0 27.7L1160.8 77.7ZM1159.3 109.0L1160.0 144.3L1160.8 109.0ZM1529.2 98.1L1530.0 31.5L1530.7 98.1ZM1529.2 278.3L1530.0 337.7L1530.7 278.3ZM1143.2 67.1L1144.0 31.5L1144.7 67.1ZM1143.2 108.3L1144.0 159.6L1144.7 108.3ZM1809.9 266.6L1810.7 236.9L1811.4 266.6ZM1809.9 273.6L1810.7 326.1L1811.4 273.6ZM1599.1 111.3L1599.9 40.9L1600.6 111.3ZM1599.1 277.5L1599.9 316.5L1600.6 277.5ZM1685.1 123.0L1685.8 79.1L1686.6 123.0ZM1685.1 272.9L1685.8 364.4L1686.6 272.9ZM1106.0 91.2L1106.8 -7.3L1107.5 91.2ZM1106.0 247.3L1106.8 289.0L1107.5 247.3ZM1393.0 96.2L1393.7 65.3L1394.5 96.2ZM1393.0 124.3L1393.7 159.8L1394.5 124.3ZM1629.5 112.8L1630.2 56.0L1631.0 112.8ZM1629.5 276.1L1630.2 308.8L1631.0 276.1ZM1347.5 96.2L1348.3 63.9L1349.0 96.2ZM1347.5 123.1L1348.3 157.1L1349.0 123.1ZM1257.3 96.2L1258.0 57.7L1258.8 96.2ZM1257.3 122.9L1258.0 244.0L1258.8 122.9ZM1820.3 270.4L1821.0 202.9L1821.8 270.4ZM1820.3 273.6L1821.0 318.4L1821.8 273.6ZM1458.3 97.3L1459.1 31.2L1459.8 97.3ZM1458.3 278.3L1459.1 366.1L1459.8 278.3ZM1642.3 113.6L1643.1 59.9L1643.8 113.6ZM1642.3 275.4L1643.1 309.5L1643.8 275.4ZM1550.9 98.1L1551.6 23.2L1552.4 98.1ZM1550.9 278.3L1551.6 345.2L1552.4 278.3ZM1165.1 82.2L1165.9 22.2L1166.6 82.2ZM1165.1 109.3L1165.9 148.6L1166.6 109.3ZM1215.7 95.5L1216.4 -16.8L1217.2 95.5ZM1215.7 122.4L1216.4 178.7L1217.2 122.4ZM1638.0 113.2L1638.8 81.0L1639.5 113.2ZM1638.0 275.6L1638.8 348.0L1639.5 275.6ZM1776.7 254.4L1777.5 167.5L1778.2 254.4ZM1776.7 273.6L1777.5 336.1L1778.2 273.6ZM1700.9 226.6L1701.7 157.8L1702.4 226.6ZM1700.9 273.6L1701.7 324.3L1702.4 273.6ZM1413.4 96.2L1414.2 24.4L1414.9 96.2ZM1413.4 124.8L1414.2 191.5L1414.9 124.8ZM1728.7 236.8L1729.5 199.4L1730.2 236.8ZM1728.7 273.6L1729.5 382.6L1730.2 273.6ZM1483.2 97.9L1483.9 -3.0L1484.7 97.9ZM1483.2 278.3L1483.9 310.0L1484.7 278.3ZM1799.4 262.7L1800.2 195.7L1800.9 262.7ZM1799.4 273.6L1800.2 309.4L1800.9 273.6ZM1705.2 228.2L1706.0 193.0L1706.7 228.2ZM1705.2 273.6L1706.0 307.7L1706.7 273.6ZM1429.8 96.5L1430.5 61.2L1431.3 96.5ZM1429.8 262.8L1430.5 308.2L1431.3 262.8ZM1755.7 246.7L1756.5 189.4L1757.2 246.7ZM1755.7 273.6L1756.5 332.9L1757.2 273.6ZM1382.1 96.2L1382.8 29.6L1383.6 96.2ZM1382.1 124.0L1382.8 191.7L1383.6 124.0ZM1592.6 111.0L1593.4 11.9L1594.1 111.0ZM1592.6 277.7L1593.4 349.6L1594.1 277.7ZM1392.4 96.2L1393.1 65.4L1393.9 96.2ZM1392.4 124.3L1393.1 179.1L1393.9 124.3ZM1703.7 227.6L1704.5 188.7L1705.2 227.6ZM1703.7 273.6L1704.5 324.6L1705.2 273.6ZM1703.7 227.6L1704.5 160.0L1705.2 227.6ZM1703.7 273.6L1704.5 302.3L1705.2 273.6ZM1452.3 97.1L1453.1 68.1L1453.8 97.1ZM1452.3 278.0L1453.1 309.5L1453.8 278.0ZM1686.4 123.4L1687.2 81.4L1687.9 123.4ZM1686.4 272.8L1687.2 324.4L1687.9 272.8ZM1429.5 96.5L1430.2 57.8L1431.0 96.5ZM1429.5 262.1L1430.2 296.7L1431.0 262.1ZM1354.3 96.2L1355.1 21.5L1355.8 96.2ZM1354.3 123.2L1355.1 175.8L1355.8 123.2ZM1309.7 96.2L1310.5 65.3L1311.2 96.2ZM1309.7 122.9L1310.5 159.4L1311.2 122.9ZM1605.9 111.6L1606.7 68.5L1607.4 111.6ZM1605.9 277.3L1606.7 332.7L1607.4 277.3ZM1682.6 122.3L1683.4 90.5L1684.1 122.3ZM1682.6 273.2L1683.4 330.2L1684.1 273.2ZM1128.3 61.2L1129.1 -10.3L1129.8 61.2ZM1128.3 110.2L1129.1 143.9L1129.8 110.2ZM1294.8 96.2L1295.5 -10.8L1296.3 96.2ZM1294.8 122.9L1295.5 162.7L1296.3 122.9ZM1260.6 96.2L1261.3 12.9L1262.1 96.2ZM1260.6 122.9L1261.3 174.9L1262.1 122.9ZM1745.4 242.9L1746.2 201.9L1746.9 242.9ZM1745.4 273.6L1746.2 319.3L1746.9 273.6ZM1790.2 259.4L1791.0 213.2L1791.7 259.4ZM1790.2 273.6L1791.0 413.0L1791.7 273.6ZM1235.4 96.2L1236.2 23.6L1236.9 96.2ZM1235.4 122.9L1236.2 155.9L1236.9 122.9ZM1479.9 97.8L1480.7 69.2L1481.4 97.8ZM1479.9 278.3L1480.7 311.7L1481.4 278.3ZM1782.4 256.5L1783.2 212.9L1783.9 256.5ZM1782.4 273.6L1783.2 343.3L1783.9 273.6ZM1279.8 96.2L1280.6 56.9L1281.3 96.2ZM1279.8 122.9L1280.6 154.2L1281.3 122.9ZM1498.4 98.1L1499.1 20.4L1499.9 98.1ZM1498.4 278.3L1499.1 324.8L1499.9 278.3ZM1371.0 96.2L1371.7 2.2L1372.5 96.2ZM1371.0 123.7L1371.7 207.9L1372.5 123.7ZM1580.7 110.4L1581.4 79.8L1582.2 110.4ZM1580.7 278.0L1581.4 330.8L1582.2 278.0ZM1419.8 96.3L1420.5 -10.8L1421.3 96.3ZM1419.8 219.5L1420.5 259.2L1421.3 219.5ZM1576.9 110.2L1577.7 56.8L1578.4 110.2ZM1576.9 278.1L1577.7 318.4L1578.4 278.1ZM1476.3 97.7L1477.1 41.1L1477.8 97.7ZM1476.3 278.3L1477.1 365.9L1477.8 278.3ZM1458.9 97.3L1459.6 57.5L1460.4 97.3ZM1458.9 278.3L1459.6 399.6L1460.4 278.3ZM1139.5 65.4L1140.2 -7.9L1141.0 65.4ZM1139.5 108.2L1140.2 165.3L1141.0 108.2ZM1501.8 98.1L1502.6 54.8L1503.3 98.1ZM1501.8 278.3L1502.6 341.4L1503.3 278.3ZM1743.4 242.2L1744.2 181.2L1744.9 242.2ZM1743.4 273.6L1744.2 336.5L1744.9 273.6ZM1123.7 60.4L1124.4 22.0L1125.2 60.4ZM1123.7 124.8L1124.4 157.1L1125.2 124.8ZM1788.2 258.6L1789.0 175.0L1789.7 258.6ZM1788.2 273.6L1789.0 306.0L1789.7 273.6ZM1523.6 98.1L1524.4 48.2L1525.1 98.1ZM1523.6 278.3L1524.4 308.1L1525.1 278.3ZM1382.2 96.2L1383.0 33.5L1383.7 96.2ZM1382.2 124.0L1383.0 178.0L1383.7 124.0ZM1301.6 96.2L1302.3 32.0L1303.1 96.2ZM1301.6 122.9L1302.3 160.1L1303.1 122.9ZM1492.3 98.1L1493.1 56.0L1493.8 98.1ZM1492.3 278.3L1493.1 401.7L1493.8 278.3ZM1568.0 109.8L1568.7 40.7L1569.5 109.8ZM1568.0 278.3L1568.7 334.9L1569.5 278.3ZM1373.7 96.2L1374.5 -14.1L1375.2 96.2ZM1373.7 123.8L1374.5 183.0L1375.2 123.8ZM1598.4 111.2L1599.2 74.6L1599.9 111.2ZM1598.4 277.5L1599.2 310.5L1599.9 277.5ZM1514.7 98.1L1515.4 26.2L1516.2 98.1ZM1514.7 278.3L1515.4 346.1L1516.2 278.3ZM1349.7 96.2L1350.4 63.9L1351.2 96.2ZM1349.7 123.1L1350.4 169.7L1351.2 123.1ZM1733.5 238.5L1734.2 205.5L1735.0 238.5ZM1733.5 273.6L1734.2 335.4L1735.0 273.6ZM1221.8 95.8L1222.6 57.9L1223.3 95.8ZM1221.8 122.6L1222.6 152.6L1223.3 122.6ZM1313.7 96.2L1314.5 55.6L1315.2 96.2ZM1313.7 122.9L1314.5 236.0L1315.2 122.9ZM1794.8 261.1L1795.6 227.3L1796.3 261.1ZM1794.8 273.6L1795.6 311.4L1796.3 273.6ZM1781.5 256.2L1782.3 222.1L1783.0 256.2ZM1781.5 273.6L1782.3 311.8L1783.0 273.6ZM1415.6 96.2L1416.3 64.8L1417.1 96.2ZM1415.6 177.8L1416.3 213.9L1417.1 177.8ZM1383.5 96.2L1384.2 55.5L1385.0 96.2ZM1383.5 124.0L1384.2 234.8L1385.0 124.0ZM1291.4 96.2L1292.2 62.0L1292.9 96.2ZM1291.4 122.9L1292.2 210.9L1292.9 122.9ZM1424.2 96.4L1425.0 22.8L1425.7 96.4ZM1424.2 243.3L1425.0 297.1L1425.7 243.3ZM1662.0 117.6L1662.7 79.7L1663.5 117.6ZM1662.0 274.4L1662.7 307.1L1663.5 274.4ZM1646.4 114.4L1647.1 70.1L1647.9 114.4ZM1646.4 275.2L1647.1 324.1L1647.9 275.2ZM1583.8 110.5L1584.5 47.3L1585.3 110.5ZM1583.8 277.9L1584.5 314.5L1585.3 277.9ZM1360.9 96.2L1361.6 5.8L1362.4 96.2ZM1360.9 123.4L1361.6 170.7L1362.4 123.4ZM1307.0 96.2L1307.8 43.0L1308.5 96.2ZM1307.0 122.9L1307.8 159.0L1308.5 122.9ZM1656.7 116.5L1657.5 86.9L1658.2 116.5ZM1656.7 274.7L1657.5 346.7L1658.2 274.7ZM1508.4 98.1L1509.1 58.7L1509.9 98.1ZM1508.4 278.3L1509.1 376.7L1509.9 278.3ZM1290.5 96.2L1291.2 60.7L1292.0 96.2ZM1290.5 122.9L1291.2 153.3L1292.0 122.9ZM1495.4 98.1L1496.1 34.8L1496.9 98.1ZM1495.4 278.3L1496.1 335.0L1496.9 278.3ZM1397.1 96.2L1397.8 26.7L1398.6 96.2ZM1397.1 124.4L1397.8 155.9L1398.6 124.4ZM1320.5 96.2L1321.2 42.0L1322.0 96.2ZM1320.5 122.9L1321.2 236.3L1322.0 122.9ZM1557.2 100.9L1557.9 43.1L1558.7 100.9ZM1557.2 278.3L1557.9 343.9L1558.7 278.3ZM1383.9 96.2L1384.6 -2.3L1385.4 96.2ZM1383.9 124.0L1384.6 186.3L1385.4 124.0ZM1345.7 96.2L1346.4 55.3L1347.2 96.2ZM1345.7 123.0L1346.4 192.2L1347.2 123.0ZM1351.4 96.2L1352.2 62.5L1352.9 96.2ZM1351.4 123.2L1352.2 202.7L1352.9 123.2ZM1483.3 97.9L1484.0 51.0L1484.8 97.9ZM1483.3 278.3L1484.0 334.4L1484.8 278.3ZM1750.9 244.9L1751.7 212.8L1752.4 244.9ZM1750.9 273.6L1751.7 312.4L1752.4 273.6ZM1146.0 68.3L1146.7 26.5L1147.5 68.3ZM1146.0 108.5L1146.7 154.3L1147.5 108.5ZM1715.1 231.8L1715.8 175.8L1716.6 231.8ZM1715.1 273.6L1715.8 323.6L1716.6 273.6ZM1390.5 96.2L1391.3 46.5L1392.0 96.2ZM1390.5 124.2L1391.3 160.7L1392.0 124.2ZM1709.9 229.9L1710.6 162.7L1711.4 229.9ZM1709.9 273.6L1710.6 347.4L1711.4 273.6ZM1207.7 95.0L1208.4 38.8L1209.2 95.0ZM1207.7 122.1L1208.4 185.5L1209.2 122.1ZM1460.7 97.3L1461.4 12.1L1462.2 97.3ZM1460.7 278.3L1461.4 363.7L1462.2 278.3ZM1636.2 113.1L1636.9 41.9L1637.7 113.1ZM1636.2 275.7L1636.9 330.3L1637.7 275.7ZM1734.4 238.9L1735.2 206.8L1735.9 238.9ZM1734.4 273.6L1735.2 332.4L1735.9 273.6ZM1607.8 111.7L1608.5 59.6L1609.3 111.7ZM1607.8 277.2L1608.5 313.8L1609.3 277.2ZM1147.0 68.8L1147.7 17.2L1148.5 68.8ZM1147.0 108.5L1147.7 180.2L1148.5 108.5ZM1295.9 96.2L1296.7 61.7L1297.4 96.2ZM1295.9 122.9L1296.7 157.8L1297.4 122.9ZM1166.2 83.0L1166.9 26.4L1167.7 83.0ZM1166.2 109.4L1166.9 229.2L1167.7 109.4ZM1679.0 121.1L1679.7 81.5L1680.5 121.1ZM1679.0 273.5L1679.7 331.9L1680.5 273.5ZM1150.5 71.0L1151.3 -2.9L1152.0 71.0ZM1150.5 108.7L1151.3 147.0L1152.0 108.7ZM1100.7 105.2L1101.5 52.0L1102.2 105.2ZM1100.7 249.6L1101.5 281.9L1102.2 249.6ZM1297.4 96.2L1298.1 66.1L1298.9 96.2ZM1297.4 122.9L1298.1 166.2L1298.9 122.9ZM1500.0 98.1L1500.8 28.7L1501.5 98.1ZM1500.0 278.3L1500.8 307.9L1501.5 278.3ZM1697.3 126.7L1698.0 95.2L1698.8 126.7ZM1697.3 271.7L1698.0 306.6L1698.8 271.7ZM1554.0 98.1L1554.7 59.2L1555.5 98.1ZM1554.0 278.3L1554.7 316.9L1555.5 278.3ZM1509.8 98.1L1510.6 63.4L1511.3 98.1ZM1509.8 278.3L1510.6 346.1L1511.3 278.3ZM1249.5 96.2L1250.3 22.3L1251.0 96.2ZM1249.5 122.9L1250.3 192.5L1251.0 122.9ZM1487.1 98.0L1487.8 68.6L1488.6 98.0ZM1487.1 278.3L1487.8 344.3L1488.6 278.3Z" fill="#008000" fill-opacity="0.19" stroke="none"/>
<path d="M1699.1 212.8L1700.6 208.1L1701.9 204.8L1704.0 213.0L1705.8 206.0L1707.9 208.6L1709.8 197.6L1711.0 203.5L1712.5 215.5L1714.2 208.4L1716.2 197.4L1718.0 192.9L1719.8 221.1L1721.8 188.8L1723.8 202.6L1725.5 189.8L1727.9 225.3L1730.1 197.9L1732.0 226.4L1733.6 219.3L1735.4 222.2L1737.2 201.5L1739.5 226.6L1742.1 215.1L1744.8 214.6L1747.6 230.4L1749.7 232.8L1752.4 222.0L1754.8 225.5L1756.8 207.0L1760.5 208.7L1763.8 226.6L1766.1 212.7L1770.4 222.4L1773.1 242.4L1776.9 239.0L1781.6 241.2L1786.4 238.2L1789.7 238.1L1794.6 243.9L1798.4 227.6L1804.1 239.6L1808.5 238.5L1811.8 244.0L1816.7 245.9L1823.4 212.6L1823.7 311.7L1818.5 293.7L1815.1 317.8L1810.0 295.0L1806.5 315.2L1801.0 286.7L1796.0 299.6L1791.9 307.2L1787.9 289.8L1784.0 289.6L1779.0 289.0L1775.3 289.2L1771.8 311.9L1768.0 297.3L1765.1 300.5L1762.2 317.1L1758.7 318.0L1755.9 318.5L1753.4 308.9L1750.8 313.7L1748.7 307.5L1746.0 292.0L1743.5 314.8L1740.7 308.5L1738.1 309.8L1736.2 301.6L1734.3 294.3L1732.9 305.6L1731.2 300.5L1729.1 311.3L1726.7 316.4L1724.8 304.0L1722.7 285.8L1720.6 292.7L1718.7 286.4L1717.4 298.1L1715.0 321.2L1713.5 293.9L1711.5 309.4L1710.3 319.7L1708.6 316.9L1706.8 311.8L1705.0 295.9L1702.9 287.6L1701.2 293.9L1699.9 302.2Z" fill="#008000" fill-opacity="0.3" stroke="none"/>
<path d="M1083.5 262.7L1083.5 207.8L1083.5 317.6L1083.5 281.8L1085.5 257.8L1085.5 196.4L1085.5 319.3L1085.5 276.9L1087.6 253.9L1087.6 198.7L1087.6 309.1L1087.6 273.0L1090.0 236.2L1090.0 197.5L1090.0 275.0L1090.0 255.3L1092.4 239.5L1092.4 199.6L1092.4 279.4L1092.4 258.5L1094.9 243.7L1094.9 216.8L1094.9 270.6L1094.9 262.7L1097.1 249.1L1097.1 213.6L1097.1 284.7L1097.1 268.2L1099.2 237.6L1099.2 191.8L1099.2 283.5L1099.2 256.7L1083.9 245.0L1083.9 141.0L1083.9 245.0L1091.5 245.0L1091.5 139.5L1091.5 245.0L1095.3 245.0L1095.3 145.8L1095.3 245.0L1096.8 245.0L1096.8 161.1L1096.8 245.0L1098.2 245.0L1098.2 155.3L1098.2 245.0L1099.4 245.0L1099.7 188.9L1099.7 301.0L1099.7 110.0L1099.7 228.8L1102.3 210.8L1102.3 81.2L1102.3 270.2L1102.3 143.3L1104.4 192.6L1104.4 270.3L1104.4 70.0L1104.4 135.4L1106.8 139.4L1106.8 68.2L1106.8 269.8L1106.8 137.7L1108.8 200.4L1108.8 270.0L1108.8 74.4L1108.8 176.3L1110.7 187.0L1110.7 40.2L1110.7 262.2L1110.7 113.1L1112.9 112.0L1112.9 243.3L1112.9 37.2L1112.9 129.7L1115.6 159.4L1115.6 32.4L1115.6 277.1L1115.6 170.4L1118.4 110.2L1118.4 248.2L1118.4 28.8L1118.4 140.5L1120.4 99.7L1120.4 49.7L1120.4 161.2L1120.4 121.4L1123.1 107.3L1123.1 143.9L1123.1 49.8L1123.1 113.5L1125.7 77.1L1125.7 29.0L1125.7 145.1L1125.7 84.6L1128.5 100.1L1128.5 141.4L1128.5 26.1L1128.5 66.6L1130.9 83.1L1130.9 13.7L1130.9 130.7L1130.9 76.3L1133.4 121.1L1133.4 167.0L1133.4 40.4L1133.4 115.3L1136.1 82.2L1136.1 40.6L1136.1 154.9L1136.1 105.3L1138.1 111.9L1138.1 158.6L1138.1 31.2L1138.1 95.4L1140.0 87.8L1140.0 14.5L1140.0 142.5L1140.0 57.9L1142.3 95.2L1142.3 119.6L1142.3 49.0L1142.3 70.8L1144.6 101.6L1144.6 39.9L1144.6 131.0L1144.6 71.1L1146.7 94.6L1146.7 142.8L1146.7 57.9L1146.7 110.1L1148.6 86.9L1148.6 50.6L1148.6 122.0L1148.6 92.4L1150.7 87.4L1150.7 122.9L1150.7 34.9L1150.7 89.4L1152.9 90.7L1152.9 56.7L1152.9 118.1L1152.9 75.3L1155.5 73.1L1155.5 128.9L1155.5 49.1L1155.5 75.4L1157.8 90.9L1157.8 29.9L1157.8 122.2L1157.8 83.8L1160.1 71.7L1160.1 117.4L1160.1 48.0L1160.1 95.0L1162.2 81.4L1162.2 50.6L1162.2 126.0L1162.2 94.5L1164.8 89.5L1164.8 149.1L1164.8 63.0L1164.8 122.7L1167.5 95.7L1167.5 61.8L1167.5 151.7L1167.5 112.5L1169.7 107.5L1169.7 132.9L1169.7 61.6L1169.7 111.4L1172.5 87.1L1172.5 60.6L1172.5 132.9L1172.5 96.0L1175.1 104.9L1175.1 123.1L1175.1 74.6L1175.1 100.1L1177.3 84.1L1177.3 63.6L1177.3 124.6L1177.3 101.0L1179.7 95.8L1179.7 132.8L1179.7 62.7L1179.7 107.9L1181.8 118.1L1181.8 59.7L1181.8 152.7L1181.8 96.1L1183.8 97.4L1183.8 141.5L1183.8 66.1L1183.8 112.9L1186.5 121.2L1186.5 77.1L1186.5 143.0L1186.5 120.9L1188.9 122.2L1188.9 167.5L1188.9 84.0L1188.9 125.9L1191.2 117.8L1191.2 72.0L1191.2 149.6L1191.2 119.9L1193.6 105.5L1193.6 159.6L1193.6 60.3L1193.6 101.7L1196.0 97.0L1196.0 74.5L1196.0 134.4L1196.0 102.5L1198.4 112.6L1198.4 133.8L1198.4 78.2L1198.4 115.7L1200.8 101.5L1200.8 79.5L1200.8 133.7L1200.8 108.6L1203.6 103.7L1203.6 132.2L1203.6 83.7L1203.6 116.6L1205.6 108.7L1205.6 85.0L1205.6 148.1L1205.6 120.7L1208.1 103.2L1208.1 150.6L1208.1 76.1L1208.1 102.5L1210.6 126.1L1210.6 84.3L1210.6 167.4L1210.6 141.9L1212.8 107.0L1212.8 164.1L1212.8 78.2L1212.8 121.9L1215.2 106.8L1215.2 66.5L1215.2 181.4L1215.2 134.7L1217.1 145.7L1217.1 185.8L1217.1 78.6L1217.1 118.0L1219.9 119.7L1219.9 69.9L1219.9 159.9L1219.9 127.0L1222.2 122.3L1222.2 164.9L1222.2 69.8L1222.2 113.8L1224.6 121.1L1224.6 68.2L1224.6 144.0L1224.6 105.5L1226.5 118.4L1226.5 162.8L1226.5 70.1L1226.5 115.9L1228.5 120.9L1228.5 70.1L1228.5 148.1L1228.5 102.4L1231.2 96.5L1231.2 151.9L1231.2 63.5L1231.2 94.8L1233.2 118.2L1233.2 80.3L1233.2 146.5L1233.2 107.8L1235.3 112.7L1235.3 152.4L1235.3 64.7L1235.3 99.8L1237.9 131.0L1237.9 62.3L1237.9 164.0L1237.9 98.0L1240.2 98.1L1240.2 144.6L1240.2 76.4L1240.2 110.6L1242.7 103.8L1242.7 72.3L1242.7 136.0L1242.7 103.4L1245.2 112.1L1245.2 147.4L1245.2 78.9L1245.2 126.3L1247.8 90.4L1247.8 68.6L1247.8 138.0L1247.8 111.0L1250.3 123.7L1250.3 158.9L1250.3 64.5L1250.3 126.7L1252.4 128.2L1252.4 65.3L1252.4 170.1L1252.4 104.4L1254.6 127.9L1254.6 165.5L1254.6 45.0L1254.6 124.7L1256.5 107.4L1256.5 60.6L1256.5 171.9L1256.5 129.8L1258.9 124.5L1258.9 145.3L1258.9 77.6L1258.9 108.7L1261.6 118.8L1261.6 83.0L1261.6 159.2L1261.6 120.4L1264.1 106.8L1264.1 136.5L1264.1 85.4L1264.1 119.0L1266.6 90.0L1266.6 64.1L1266.6 137.8L1266.6 94.5L1269.3 113.0L1269.3 134.3L1269.3 67.3L1269.3 110.9L1271.8 97.6L1271.8 49.2L1271.8 145.4L1271.8 97.3L1274.2 111.0L1274.2 138.0L1274.2 72.5L1274.2 115.1L1276.1 111.2L1276.1 75.9L1276.1 141.5L1276.1 118.2L1278.6 117.0L1278.6 151.4L1278.6 87.3L1278.6 110.1L1281.1 116.2L1281.1 86.2L1281.1 133.0L1281.1 108.2L1283.4 102.4L1283.4 136.9L1283.4 79.3L1283.4 115.8L1285.9 98.9L1285.9 64.9L1285.9 156.7L1285.9 94.8L1287.8 105.1L1287.8 143.3L1287.8 59.5L1287.8 104.0L1289.9 108.0L1289.9 75.6L1289.9 164.5L1289.9 119.1L1292.0 117.0L1292.0 156.2L1292.0 70.8L1292.0 98.4L1294.6 107.7L1294.6 68.4L1294.6 169.5L1294.6 125.5L1296.7 125.2L1296.7 167.1L1296.7 61.5L1296.7 121.2L1299.1 110.5L1299.1 66.1L1299.1 150.5L1299.1 92.1L1301.4 85.1L1301.4 155.9L1301.4 42.0L1301.4 80.1L1303.6 77.9L1303.6 35.3L1303.6 149.3L1303.6 76.4L1306.2 120.8L1306.2 149.4L1306.2 60.5L1306.2 104.3L1308.6 111.4L1308.6 78.2L1308.6 182.8L1308.6 112.3L1310.7 123.2L1310.7 160.6L1310.7 67.0L1310.7 116.7L1313.5 102.7L1313.5 71.5L1313.5 141.3L1313.5 110.2L1316.3 113.9L1316.3 152.0L1316.3 77.6L1316.3 127.6L1318.6 125.0L1318.6 72.6L1318.6 172.1L1318.6 122.2L1320.9 133.0L1320.9 165.8L1320.9 59.6L1320.9 128.0L1323.1 97.8L1323.1 72.5L1323.1 153.4L1323.1 104.0L1325.8 81.5L1325.8 135.2L1325.8 55.6L1325.8 91.2L1327.8 95.6L1327.8 62.0L1327.8 151.5L1327.8 93.0L1330.2 98.0L1330.2 147.5L1330.2 71.8L1330.2 123.8L1332.6 119.3L1332.6 81.1L1332.6 167.3L1332.6 132.3L1334.6 112.7L1334.6 155.5L1334.6 80.6L1334.6 124.8L1336.7 103.9L1336.7 75.6L1336.7 134.2L1336.7 95.0L1339.4 85.5L1339.4 138.4L1339.4 42.0L1339.4 99.8L1341.3 103.8L1341.3 74.1L1341.3 134.4L1341.3 105.8L1344.1 91.1L1344.1 138.1L1344.1 69.0L1344.1 109.4L1346.8 110.7L1346.8 75.9L1346.8 136.2L1346.8 102.5L1349.2 123.4L1349.2 143.8L1349.2 85.3L1349.2 112.3L1351.7 91.9L1351.7 70.2L1351.7 138.4L1351.7 103.9L1353.7 114.1L1353.7 137.3L1353.7 80.4L1353.7 109.6L1355.8 88.3L1355.8 48.0L1355.8 130.9L1355.8 101.1L1358.5 107.4L1358.5 130.7L1358.5 64.3L1358.5 107.2L1360.7 118.2L1360.7 85.7L1360.7 141.4L1360.7 115.6L1362.8 133.7L1362.8 172.3L1362.8 79.3L1362.8 135.4L1365.3 123.4L1365.3 83.4L1365.3 143.5L1365.3 112.4L1367.4 102.8L1367.4 153.8L1367.4 73.5L1367.4 110.1L1370.0 116.6L1370.0 81.8L1370.0 155.5L1370.0 114.2L1372.3 122.1L1372.3 150.2L1372.3 76.4L1372.3 107.1L1374.4 110.1L1374.4 69.5L1374.4 148.2L1374.4 107.3L1377.1 102.8L1377.1 138.6L1377.1 73.0L1377.1 106.6L1379.3 134.5L1379.3 83.0L1379.3 172.4L1379.3 136.9L1381.5 120.8L1381.5 150.9L1381.5 73.5L1381.5 111.8L1384.3 119.2L1384.3 84.2L1384.3 148.2L1384.3 114.0L1386.9 131.0L1386.9 156.2L1386.9 73.5L1386.9 119.7L1389.1 103.1L1389.1 59.1L1389.1 183.0L1389.1 134.0L1391.7 92.5L1391.7 155.2L1391.7 35.3L1391.7 95.6L1394.4 113.7L1394.4 44.8L1394.4 162.3L1394.4 80.6L1396.6 98.1L1396.6 141.1L1396.6 38.2L1396.6 78.5L1398.5 113.5L1398.5 79.0L1398.5 133.2L1398.5 115.5L1400.8 103.6L1400.8 139.6L1400.8 84.1L1400.8 113.2L1402.9 116.8L1402.9 76.1L1402.9 136.4L1402.9 109.0L1405.3 117.5L1405.3 148.8L1405.3 82.9L1405.3 109.7L1407.3 146.4L1407.3 84.3L1407.3 178.9L1407.3 142.0L1409.5 100.2L1409.5 159.3L1409.5 72.8L1409.5 107.8L1411.5 129.0L1411.5 78.4L1411.5 157.7L1411.5 123.2L1413.9 112.0L1413.9 141.6L1413.9 74.5L1413.9 103.3L1415.9 129.6L1415.9 59.2L1415.9 214.5L1415.9 115.1L1418.0 125.6L1418.0 242.8L1418.0 56.3L1418.0 148.2L1420.4 143.9L1420.4 77.1L1420.4 242.2L1420.4 143.6L1423.1 123.7L1423.1 232.9L1423.1 52.1L1423.1 144.3L1425.7 139.4L1425.7 53.3L1425.7 276.3L1425.7 146.2L1427.8 141.1L1427.8 301.8L1427.8 60.4L1427.8 217.1L1429.9 139.0L1429.9 80.5L1429.9 246.9L1429.9 196.7L1432.5 160.7L1432.5 305.1L1432.5 66.9L1432.5 177.8L1435.1 119.5L1435.1 69.3L1435.1 169.5L1435.1 100.8L1437.4 134.7L1437.4 206.2L1437.4 71.1L1437.4 143.1L1439.9 154.1L1439.9 59.4L1439.9 304.4L1439.9 145.4L1442.3 171.3L1442.3 302.6L1442.3 60.8L1442.3 193.4L1445.0 185.8L1445.0 67.1L1445.0 295.7L1445.0 185.2L1447.5 152.8L1447.5 285.9L1447.5 60.0L1447.5 191.7L1449.5 200.2L1449.5 76.6L1449.5 303.9L1449.5 185.3L1452.1 187.7L1452.1 306.2L1452.1 45.1L1452.1 194.3L1454.5 156.2L1454.5 68.1L1454.5 296.8L1454.5 150.5L1456.8 168.7L1456.8 290.0L1456.8 47.3L1456.8 174.1L1458.9 147.9L1458.9 65.1L1458.9 197.3L1458.9 141.6L1460.8 240.2L1460.8 332.7L1460.8 74.3L1460.8 195.7L1463.5 190.0L1463.5 73.2L1463.5 323.2L1463.5 239.4L1466.2 164.7L1466.2 329.1L1466.2 83.1L1466.2 223.4L1468.4 155.3L1468.4 62.6L1468.4 318.1L1468.4 155.8L1470.3 135.2L1470.3 306.0L1470.3 56.2L1470.3 210.6L1472.3 192.1L1472.3 78.4L1472.3 293.1L1472.3 150.5L1475.0 226.8L1475.0 287.5L1475.0 87.8L1475.0 223.8L1477.8 184.1L1477.8 78.5L1477.8 301.2L1477.8 190.1L1479.7 136.6L1479.7 289.7L1479.7 60.5L1479.7 150.1L1481.6 166.8L1481.6 56.4L1481.6 284.2L1481.6 124.9L1483.7 174.5L1483.7 302.3L1483.7 50.2L1483.7 174.5L1486.2 178.8L1486.2 81.7L1486.2 309.7L1486.2 205.8L1488.2 145.1L1488.2 196.4L1488.2 80.7L1488.2 134.2L1490.6 201.3L1490.6 85.3L1490.6 292.7L1490.6 151.8L1493.3 138.3L1493.3 206.3L1493.3 87.2L1493.3 145.5L1496.0 215.1L1496.0 59.8L1496.0 294.9L1496.0 189.2L1498.2 194.9L1498.2 326.5L1498.2 40.6L1498.2 176.5L1500.5 170.5L1500.5 61.6L1500.5 293.0L1500.5 142.2L1503.2 134.1L1503.2 296.2L1503.2 59.9L1503.2 179.3L1505.7 194.9L1505.7 58.0L1505.7 319.3L1505.7 175.6L1508.2 151.3L1508.2 316.2L1508.2 80.2L1508.2 213.0L1510.7 179.4L1510.7 74.2L1510.7 289.7L1510.7 154.7L1513.3 221.2L1513.3 305.9L1513.3 76.0L1513.3 207.6L1515.3 135.2L1515.3 58.8L1515.3 306.3L1515.3 150.3L1517.8 185.4L1517.8 301.3L1517.8 71.7L1517.8 222.3L1520.4 144.3L1520.4 61.1L1520.4 304.3L1520.4 164.2L1522.4 159.6L1522.4 288.8L1522.4 83.2L1522.4 145.7L1524.6 145.3L1524.6 62.7L1524.6 302.2L1524.6 190.0L1526.7 216.7L1526.7 296.5L1526.7 76.5L1526.7 204.9L1529.2 194.0L1529.2 90.0L1529.2 300.0L1529.2 194.6L1531.6 182.8L1531.6 242.8L1531.6 82.9L1531.6 183.2L1534.2 167.0L1534.2 49.1L1534.2 312.4L1534.2 169.9L1536.3 200.6L1536.3 308.0L1536.3 64.5L1536.3 138.2L1538.3 175.2L1538.3 71.9L1538.3 303.9L1538.3 230.4L1540.5 197.0L1540.5 318.6L1540.5 56.9L1540.5 157.6L1542.8 194.4L1542.8 59.8L1542.8 292.9L1542.8 158.6L1545.0 229.6L1545.0 304.5L1545.0 55.9L1545.0 199.7L1547.6 152.1L1547.6 61.3L1547.6 311.4L1547.6 177.7L1550.2 170.6L1550.2 307.6L1550.2 66.1L1550.2 216.2L1552.3 190.1L1552.3 71.3L1552.3 308.4L1552.3 184.8L1555.1 213.4L1555.1 306.8L1555.1 77.0L1555.1 178.4L1557.3 190.5L1557.3 91.7L1557.3 294.4L1557.3 152.8L1559.6 182.2L1559.6 281.8L1559.6 93.9L1559.6 194.5L1562.1 214.8L1562.1 86.9L1562.1 283.2L1562.1 212.0L1564.6 171.0L1564.6 299.0L1564.6 87.1L1564.6 226.4L1566.6 232.1L1566.6 93.6L1566.6 303.4L1566.6 226.2L1568.9 199.3L1568.9 310.4L1568.9 92.1L1568.9 173.0L1571.5 203.9L1571.5 96.4L1571.5 332.7L1571.5 185.6L1573.9 237.1L1573.9 302.7L1573.9 100.8L1573.9 241.2L1576.5 178.8L1576.5 93.4L1576.5 311.2L1576.5 217.8L1578.5 178.2L1578.5 309.6L1578.5 85.4L1578.5 210.6L1580.8 237.8L1580.8 88.8L1580.8 324.4L1580.8 228.6L1582.9 240.0L1582.9 319.6L1582.9 85.1L1582.9 164.5L1585.2 173.2L1585.2 71.1L1585.2 289.6L1585.2 193.6L1587.5 200.9L1587.5 301.3L1587.5 92.0L1587.5 206.2L1589.7 245.1L1589.7 80.5L1589.7 323.3L1589.7 164.0L1592.0 184.9L1592.0 290.2L1592.0 92.7L1592.0 155.1L1594.0 179.6L1594.0 88.0L1594.0 262.8L1594.0 167.0L1596.7 218.9L1596.7 311.0L1596.7 80.7L1596.7 237.8L1599.4 141.7L1599.4 68.6L1599.4 291.7L1599.4 148.5L1602.0 202.6L1602.0 300.0L1602.0 71.2L1602.0 149.1L1604.4 170.4L1604.4 76.9L1604.4 327.2L1604.4 221.7L1606.8 168.2L1606.8 296.4L1606.8 59.5L1606.8 134.4L1609.1 203.1L1609.1 72.5L1609.1 332.7L1609.1 155.8L1611.9 237.4L1611.9 332.7L1611.9 92.7L1611.9 223.3L1614.1 186.9L1614.1 96.7L1614.1 315.3L1614.1 230.4L1616.8 217.5L1616.8 304.6L1616.8 99.1L1616.8 171.0L1619.5 206.3L1619.5 95.3L1619.5 314.7L1619.5 179.3L1622.1 226.2L1622.1 306.6L1622.1 104.3L1622.1 231.9L1624.0 204.5L1624.0 102.4L1624.0 285.8L1624.0 217.1L1626.5 155.9L1626.5 289.8L1626.5 95.4L1626.5 208.9L1629.0 200.7L1629.0 97.3L1629.0 314.9L1629.0 239.6L1631.5 199.0L1631.5 304.1L1631.5 99.5L1631.5 211.2L1633.8 211.2L1633.8 101.2L1633.8 305.4L1633.8 238.8L1635.7 181.2L1635.7 223.4L1635.7 102.6L1635.7 147.3L1638.1 207.9L1638.1 85.2L1638.1 304.6L1638.1 217.3L1640.2 214.2L1640.2 305.9L1640.2 62.2L1640.2 205.1L1642.2 149.7L1642.2 98.9L1642.2 182.9L1642.2 156.5L1644.8 180.5L1644.8 293.5L1644.8 93.8L1644.8 206.3L1647.5 184.7L1647.5 102.4L1647.5 231.4L1647.5 156.3L1650.1 255.2L1650.1 331.9L1650.1 104.3L1650.1 239.1L1652.1 170.4L1652.1 94.0L1652.1 302.8L1652.1 229.5L1654.7 209.5L1654.7 316.7L1654.7 92.0L1654.7 174.1L1657.4 172.6L1657.4 101.0L1657.4 290.5L1657.4 221.5L1659.6 196.1L1659.6 277.9L1659.6 92.4L1659.6 168.7L1661.8 135.1L1661.8 84.5L1661.8 176.6L1661.8 113.7L1664.4 210.2L1664.4 284.4L1664.4 90.7L1664.4 152.6L1667.2 200.5L1667.2 84.1L1667.2 317.7L1667.2 226.4L1669.6 209.9L1669.6 315.1L1669.6 96.4L1669.6 238.0L1671.6 176.4L1671.6 97.7L1671.6 286.2L1671.6 210.0L1674.0 175.1L1674.0 313.8L1674.0 103.6L1674.0 201.3L1676.4 226.6L1676.4 106.9L1676.4 323.4L1676.4 237.1L1679.0 133.4L1679.0 160.2L1679.0 110.8L1679.0 141.2L1681.6 173.3L1681.6 105.9L1681.6 297.9L1681.6 230.9L1684.2 152.8L1684.2 205.6L1684.2 101.2L1684.2 151.6L1686.9 234.3L1686.9 106.9L1686.9 322.2L1686.9 191.1L1689.1 213.3L1689.1 302.7L1689.1 105.6L1689.1 191.8L1691.1 209.2L1691.1 101.7L1691.1 329.0L1691.1 232.6L1693.8 187.6L1693.8 248.9L1693.8 114.5L1693.8 203.9L1696.3 215.1L1696.3 101.4L1696.3 282.1L1696.3 166.4L1698.5 216.6L1698.5 310.6L1698.5 91.2L1698.5 186.6" stroke="#008000" stroke-width="3.0" fill="none" stroke-linejoin="round" stroke-linecap="round"/>
<path d="M1699.1 218.5L1699.9 296.4L1700.6 213.9L1701.2 288.2L1701.9 210.5L1702.9 281.9L1704.0 218.7L1705.0 290.2L1705.8 211.7L1706.8 306.1L1707.9 214.3L1708.6 311.1L1709.8 203.3L1710.3 314.0L1711.0 209.2L1711.5 303.7L1712.5 221.3L1713.5 288.2L1714.2 214.1L1715.0 315.5L1716.2 203.2L1717.4 292.4L1718.0 198.6L1718.7 280.7L1719.8 226.8L1720.6 287.0L1721.8 194.5L1722.7 280.1L1723.8 208.3L1724.8 298.3L1725.5 195.5L1726.7 310.7L1727.9 231.1L1729.1 305.6L1730.1 203.6L1731.2 294.8L1732.0 232.1L1732.9 299.8L1733.6 225.0L1734.3 288.6L1735.4 227.9L1736.2 295.9L1737.2 207.3L1738.1 304.1L1739.5 232.3L1740.7 302.8L1742.1 220.9L1743.5 309.1L1744.8 220.3L1746.0 286.3L1747.6 236.1L1748.7 301.8L1749.7 238.6L1750.8 308.0L1752.4 227.7L1753.4 303.2L1754.8 231.2L1755.9 312.8L1756.8 212.7L1758.7 312.3L1760.5 214.5L1762.2 311.4L1763.8 232.3L1765.1 294.8L1766.1 218.4L1768.0 291.6L1770.4 228.1L1771.8 306.1L1773.1 248.1L1775.3 283.5L1776.9 244.7L1779.0 283.3L1781.6 247.0L1784.0 283.9L1786.4 243.9L1787.9 284.1L1789.7 243.8L1791.9 301.4L1794.6 249.6L1796.0 293.9L1798.4 233.3L1801.0 281.0L1804.1 245.3L1806.5 309.5L1808.5 244.2L1810.0 289.3L1811.8 249.7L1815.1 312.1L1816.7 251.6L1818.5 288.0L1820.8 264.0L1823.4 242.5L1826.0 297.8" stroke="#008000" stroke-width="3.1" fill="none" stroke-linejoin="round" stroke-linecap="round"/>
<path d="M1703.6 105.8V245.0M1709.9 119.1V245.0M1714.4 105.8V245.0M1724.9 140.1V245.0M1718.1 172.5V245.0M1780.1 113.4V264.0M1743.9 178.2V311.7M1734.9 201.1V264.0M1545.0 35.6V130.6M1552.8 44.7V130.6M1570.3 39.0V130.6M1583.0 225.9V349.9M1606.2 225.9V349.9" stroke="#008000" stroke-width="3.0" fill="none" stroke-linecap="round"/>
<path d="M1085.9 292.6L1109.8 115.3L1116.5 75.2L1129.6 56.9L1140.4 68.2L1147.9 64.2L1160.2 91.6L1169.9 84.2L1177.4 114.3L1190.1 83.4L1200.5 118.9L1207.6 101.4L1222.9 97.6L1235.6 104.4L1260.6 97.2L1280.7 98.1L1296.0 105.8L1308.7 90.1L1335.2 109.6L1349.0 103.5L1360.6 102.7L1391.2 89.4L1420.3 83.8L1435.6 91.5L1448.7 83.1L1470.0 101.4L1487.1 92.6L1499.8 80.8L1522.9 90.5L1539.7 83.1L1555.4 73.9L1581.5 203.8L1601.3 214.1" stroke="#0000ff" stroke-width="3.1" fill="none" stroke-linejoin="round" stroke-linecap="square"/>
<path d="M1102.7 170.6L1125.9 82.9L1168.0 90.5L1204.2 117.8L1254.2 127.7L1269.2 122.0L1294.2 118.3L1314.0 134.0L1327.4 117.8L1348.3 115.7L1364.0 134.7L1377.0 138.9L1396.4 105.2L1412.9 142.8L1443.5 104.6L1462.1 143.5L1475.2 134.0L1494.6 121.4L1510.3 142.8L1521.8 129.6L1542.7 118.9L1558.8 126.5L1568.9 134.7L1602.4 147.7L1612.5 142.2L1623.0 153.2L1633.0 135.7L1643.5 153.4L1652.4 299.3" stroke="#ff0000" stroke-width="3.1" fill="none" stroke-linejoin="round" stroke-linecap="square"/>
</g>
<path d="M168.30 341.3V349.8M274.95 341.3V349.8M381.60 341.3V349.8M488.25 341.3V349.8M594.90 341.3V349.8M701.55 341.3V349.8M808.20 341.3V349.8M913.70 341.3V349.8" stroke="#555555" stroke-width="1.3" fill="none"/>
<path d="M126.1 345.7H131.0" stroke="#9a9a9a" stroke-width="0.8" fill="none"/>
<path d="M126.1 35.20H131.0M126.1 82.88H131.0M126.1 130.55H131.0M126.1 178.23H131.0M126.1 225.90H131.0M126.1 273.57H131.0M126.1 321.25H131.0" stroke="#555555" stroke-width="1.3" fill="none"/>
<text transform="translate(120.5,43.6) scale(0.990,1.045)" font-size="22" fill="#555555" text-anchor="end">−15.0</text>
<text transform="translate(120.5,91.3) scale(0.990,1.045)" font-size="22" fill="#555555" text-anchor="end">−17.5</text>
<text transform="translate(120.5,139.0) scale(0.990,1.045)" font-size="22" fill="#555555" text-anchor="end">−20.0</text>
<text transform="translate(120.5,186.6) scale(0.990,1.045)" font-size="22" fill="#555555" text-anchor="end">−22.5</text>
<text transform="translate(120.5,234.3) scale(0.990,1.045)" font-size="22" fill="#555555" text-anchor="end">−25.0</text>
<text transform="translate(120.5,282.0) scale(0.990,1.045)" font-size="22" fill="#555555" text-anchor="end">−27.5</text>
<text transform="translate(120.5,329.6) scale(0.990,1.045)" font-size="22" fill="#555555" text-anchor="end">−30.0</text>
<text transform="translate(168.3,371.0) scale(0.990,1.045)" font-size="22" fill="#555555" text-anchor="middle">0</text>
<text transform="translate(275.0,371.0) scale(0.990,1.045)" font-size="22" fill="#555555" text-anchor="middle">25</text>
<text transform="translate(381.6,371.0) scale(0.990,1.045)" font-size="22" fill="#555555" text-anchor="middle">50</text>
<text transform="translate(488.2,371.0) scale(0.990,1.045)" font-size="22" fill="#555555" text-anchor="middle">75</text>
<text transform="translate(594.9,371.0) scale(0.990,1.045)" font-size="22" fill="#555555" text-anchor="middle">100</text>
<text transform="translate(701.5,371.0) scale(0.990,1.045)" font-size="22" fill="#555555" text-anchor="middle">125</text>
<text transform="translate(808.2,371.0) scale(0.990,1.045)" font-size="22" fill="#555555" text-anchor="middle">150</text>
<text transform="translate(913.7,371.0) scale(0.990,1.045)" font-size="22" fill="#555555" text-anchor="middle">175</text>
<g clip-path="url(#cz)"><text transform="translate(121.5,354.2) scale(0.990,1.045)" font-size="22" fill="#555555" text-anchor="end">0</text></g>
<path d="M1082.20 341.3V349.8M1175.50 341.3V349.8M1268.80 341.3V349.8M1362.10 341.3V349.8M1455.40 341.3V349.8M1548.70 341.3V349.8M1642.00 341.3V349.8M1735.30 341.3V349.8M1828.60 341.3V349.8" stroke="#555555" stroke-width="1.3" fill="none"/>
<path d="M1041.9 35.20H1046.8M1041.9 82.88H1046.8M1041.9 130.55H1046.8M1041.9 178.23H1046.8M1041.9 225.90H1046.8M1041.9 273.57H1046.8M1041.9 321.25H1046.8" stroke="#555555" stroke-width="1.3" fill="none"/>
<text transform="translate(1035.5,43.6) scale(0.990,1.045)" font-size="22" fill="#555555" text-anchor="end">−15.0</text>
<text transform="translate(1035.5,91.3) scale(0.990,1.045)" font-size="22" fill="#555555" text-anchor="end">−17.5</text>
<text transform="translate(1035.5,139.0) scale(0.990,1.045)" font-size="22" fill="#555555" text-anchor="end">−20.0</text>
<text transform="translate(1035.5,186.6) scale(0.990,1.045)" font-size="22" fill="#555555" text-anchor="end">−22.5</text>
<text transform="translate(1035.5,234.3) scale(0.990,1.045)" font-size="22" fill="#555555" text-anchor="end">−25.0</text>
<text transform="translate(1035.5,282.0) scale(0.990,1.045)" font-size="22" fill="#555555" text-anchor="end">−27.5</text>
<text transform="translate(1035.5,329.6) scale(0.990,1.045)" font-size="22" fill="#555555" text-anchor="end">−30.0</text>
<text transform="translate(1082.2,371.0) scale(0.990,1.045)" font-size="22" fill="#555555" text-anchor="middle">0</text>
<text transform="translate(1175.5,371.0) scale(0.990,1.045)" font-size="22" fill="#555555" text-anchor="middle">250</text>
<text transform="translate(1268.8,371.0) scale(0.990,1.045)" font-size="22" fill="#555555" text-anchor="middle">500</text>
<text transform="translate(1362.1,371.0) scale(0.990,1.045)" font-size="22" fill="#555555" text-anchor="middle">750</text>
<text transform="translate(1455.4,371.0) scale(0.990,1.045)" font-size="22" fill="#555555" text-anchor="middle">1000</text>
<text transform="translate(1548.7,371.0) scale(0.990,1.045)" font-size="22" fill="#555555" text-anchor="middle">1250</text>
<text transform="translate(1642.0,371.0) scale(0.990,1.045)" font-size="22" fill="#555555" text-anchor="middle">1500</text>
<text transform="translate(1735.3,371.0) scale(0.990,1.045)" font-size="22" fill="#555555" text-anchor="middle">1750</text>
<text transform="translate(1828.6,371.0) scale(0.990,1.045)" font-size="22" fill="#555555" text-anchor="middle">2000</text>
<g clip-path="url(#cz)"><text transform="translate(1036.5,353.3) scale(0.990,1.045)" font-size="22" fill="#555555" text-anchor="end">0</text></g>
<text transform="translate(539.0,399.8) scale(0.990,1.045)" font-size="22" fill="#555555" text-anchor="middle">Cultivation days (DaS)</text>
<text transform="translate(1451.5,399.0) scale(0.990,1.045)" font-size="22" fill="#555555" text-anchor="middle">Cummulated</text>
<text transform="translate(1458.5,425.4) scale(0.990,1.045)" font-size="22" fill="#555555" text-anchor="middle">temperature - GDD (°C)</text>
<text transform="translate(42.3,178.0) rotate(-90) scale(0.990,1.045)" font-size="22" fill="#555555" text-anchor="middle">VH (dB)</text>
<text transform="translate(958.3,178.0) rotate(-90) scale(0.990,1.045)" font-size="22" fill="#555555" text-anchor="middle">VH (dB)</text>
<rect x="142.5" y="221.3" width="210.5" height="107.7" rx="3.5" ry="3.5" fill="#e5e5e5" fill-opacity="0.8" stroke="#cccccc" stroke-opacity="0.7" stroke-width="1"/>
<path d="M149.9 240.3H196.6" stroke="#008000" stroke-width="3.1"/>
<text transform="translate(212.8,247.7) scale(0.990,1.045)" font-size="22" fill="#000000">VH Baseline</text>
<path d="M149.9 274.3H196.6" stroke="#0000ff" stroke-width="3.1"/>
<text transform="translate(212.8,281.7) scale(0.990,1.045)" font-size="22" fill="#000000">Winter</text>
<path d="M149.9 308.3H196.6" stroke="#ff0000" stroke-width="3.1"/>
<text transform="translate(212.8,315.7) scale(0.990,1.045)" font-size="22" fill="#000000">Summer</text>
<rect x="1057.7" y="221.3" width="210.5" height="107.7" rx="3.5" ry="3.5" fill="#e5e5e5" fill-opacity="0.8" stroke="#cccccc" stroke-opacity="0.7" stroke-width="1"/>
<path d="M1065.1 240.3H1111.8" stroke="#008000" stroke-width="3.1"/>
<text transform="translate(1128.0,247.7) scale(0.990,1.045)" font-size="22" fill="#000000">VH Baseline</text>
<path d="M1065.1 274.3H1111.8" stroke="#0000ff" stroke-width="3.1"/>
<text transform="translate(1128.0,281.7) scale(0.990,1.045)" font-size="22" fill="#000000">Winter</text>
<path d="M1065.1 308.3H1111.8" stroke="#ff0000" stroke-width="3.1"/>
<text transform="translate(1128.0,315.7) scale(0.990,1.045)" font-size="22" fill="#000000">Summer</text>
<path d="M961.2 350V446" stroke="#c6c6c6" stroke-width="1"/>
</svg>
</body></html>
